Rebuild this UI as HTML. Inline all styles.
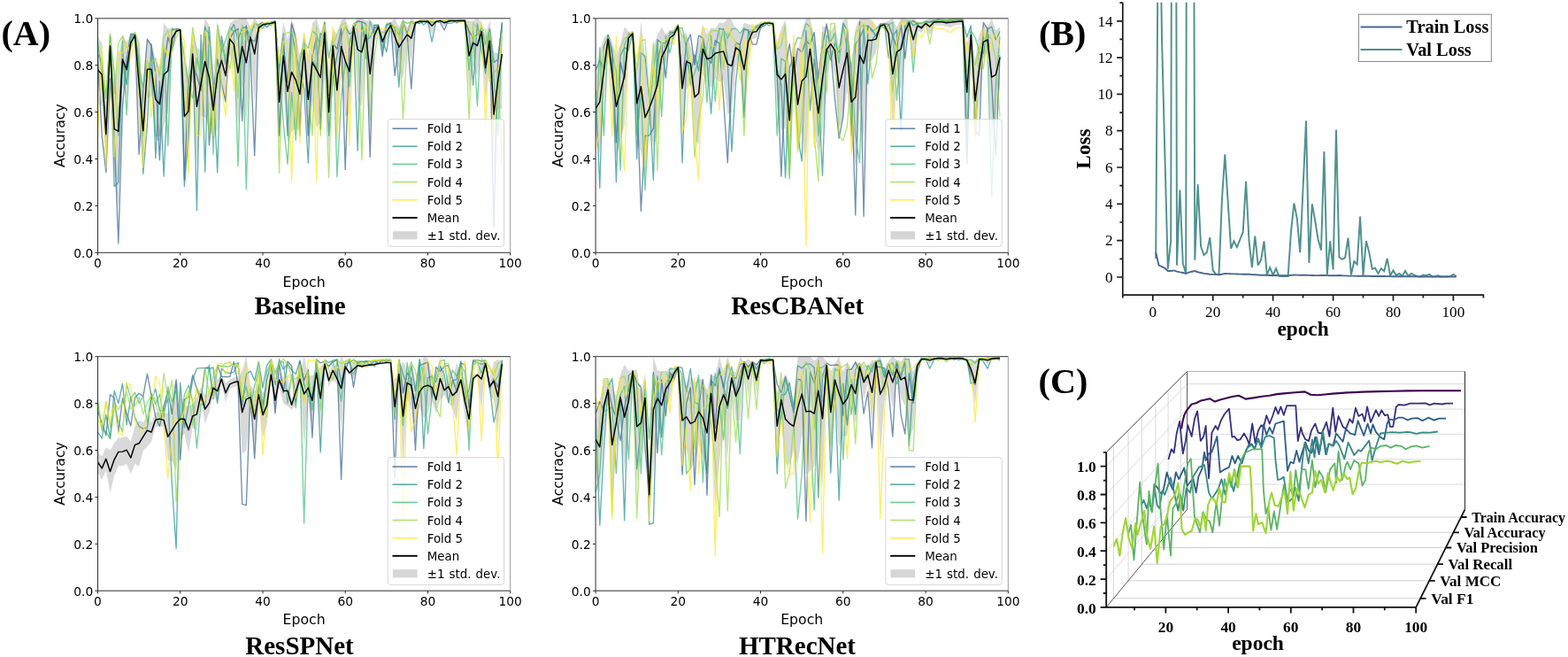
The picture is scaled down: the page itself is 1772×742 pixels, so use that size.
<!DOCTYPE html>
<html lang="en"><head><meta charset="utf-8"><title>Training curves</title>
<style>html,body{margin:0;padding:0;background:#fff}body{width:1772px;height:742px;overflow:hidden}svg{display:block}</style>
</head><body>
<svg width="1772" height="742" viewBox="0 0 1772 742" role="img" aria-label="Training curves">
<rect width="1772" height="742" fill="#fff"/>
<g id="pa1">
<clipPath id="ca1"><rect x="110.5" y="20.8" width="466.2" height="264.5"/></clipPath>
<g clip-path="url(#ca1)" fill="none" stroke-linejoin="round">
<polygon points="110.5,41 115.2,48.5 119.8,114.2 124.5,32.8 129.1,99 133.8,62 138.5,38.8 143.1,48.3 147.8,38.1 152.5,35.9 157.1,51 161.8,106.1 166.4,45.2 171.1,48.2 175.8,67.4 180.4,76.1 185.1,25.8 189.8,32.6 194.4,31.8 199.1,31.8 203.7,32.9 208.4,63.3 213.1,83.4 217.7,32.5 222.4,52.8 227.1,58 231.7,20.8 236.4,28.6 241,91.6 245.7,23.2 250.4,44.3 255,53.1 259.7,26.5 264.3,22.6 269,22 273.7,20.8 278.3,20.8 283,31.1 287.7,20.8 292.3,26.9 297,25.4 301.6,25 306.3,25 311,23.2 315.6,65.1 320.3,24.4 325,45.6 329.6,20.8 334.3,37 338.9,63.9 343.6,34.8 348.3,62.9 352.9,26.6 357.6,20.8 362.2,37.1 366.9,21.4 371.6,80.4 376.2,32.4 380.9,38.9 385.6,22.7 390.2,20.8 394.9,34.2 399.5,26.8 404.2,20.8 408.9,20.8 413.5,23.6 418.2,22.2 422.9,27.8 427.5,27.6 432.2,35.4 436.8,24.9 441.5,25.6 446.2,20.8 450.8,30.2 455.5,20.8 460.1,31.4 464.8,20.8 469.5,24.7 474.1,22.8 478.8,22.3 483.5,22.9 488.1,20.8 492.8,23.5 497.4,22.4 502.1,21.7 506.8,22.6 511.4,22.2 516.1,22.3 520.8,22.2 525.4,22.6 530.1,23.3 534.7,23.6 539.4,20.8 544.1,24.8 548.7,39.7 553.4,23.1 558.1,59.4 562.7,59.5 567.4,20.8 567.4,123 562.7,123.3 558.1,199.1 553.4,69.3 548.7,113.5 544.1,46.4 539.4,86.2 534.7,73 530.1,103 525.4,24.3 520.8,24.7 516.1,24.6 511.4,24.7 506.8,25.3 502.1,30 497.4,24.5 492.8,24.9 488.1,38.3 483.5,25 478.8,26.2 474.1,25.7 469.5,27 464.8,72.4 460.1,46.8 455.5,90.2 450.8,76.5 446.2,63.3 441.5,31.3 436.8,47.9 432.2,58.5 427.5,32.5 422.9,53.5 418.2,144.8 413.5,54.5 408.9,120 404.2,113.3 399.5,33.3 394.9,127.4 390.2,132.1 385.6,82.3 380.9,165.1 376.2,71.1 371.6,172.8 366.9,52.5 362.2,138.3 357.6,143.9 352.9,114 348.3,161.7 343.6,78.8 338.9,148.6 334.3,144.3 329.6,148.8 325,161.1 320.3,101.8 315.6,165.4 311,26.9 306.3,27.7 301.6,28.8 297,30.4 292.3,35.9 287.7,118.9 283,52.8 278.3,142.6 273.7,94.5 269,142.3 264.3,77.2 259.7,61.7 255,118.1 250.4,92 245.7,145.4 241,157.4 236.4,145.8 231.7,132.6 227.1,130.7 222.4,187.7 217.7,89.5 213.1,168.2 208.4,199.4 203.7,34.7 199.1,38.9 194.4,54.7 189.8,127.5 185.1,142.8 180.4,159.2 175.8,157.2 171.1,108.2 166.4,111.2 161.8,189.4 157.1,138.7 152.5,43.8 147.8,58.5 143.1,109.2 138.5,95.4 133.8,234.6 129.1,192.3 124.5,70.7 119.8,188.2 115.2,120 110.5,116.4" fill="#808080" fill-opacity="0.3" stroke="none"/>
<polyline points="110.5,65.7 115.2,153.1 119.8,194.8 124.5,88.9 129.1,153.1 133.8,274.7 138.5,120.4 143.1,66.7 147.8,38.3 152.5,38.7 157.1,174.2 161.8,101.5 166.4,44 171.1,52 175.8,82.9 180.4,180.8 185.1,76.4 189.8,42.1 194.4,55.9 199.1,32.6 203.7,33.4 208.4,203.3 213.1,92.3 217.7,72.3 222.4,85.5 227.1,102.1 231.7,30.2 236.4,163.9 241,105.4 245.7,67 250.4,94.9 255,114.7 259.7,43.8 264.3,35.7 269,32.5 273.7,136.4 278.3,29 283,61.2 287.7,175.8 292.3,27.8 297,25.2 301.6,30.6 306.3,25.7 311,23.8 315.6,153.1 320.3,51.6 325,93 329.6,26.6 334.3,43.2 338.9,153.1 343.6,45.7 348.3,153.1 352.9,63.7 357.6,42.7 362.2,145.6 366.9,25.5 371.6,107.4 376.2,48.8 380.9,55.3 385.6,32.5 390.2,191.4 394.9,49.4 399.5,31.4 404.2,24 408.9,24.6 413.5,27 418.2,177.4 422.9,28.3 427.5,28.3 432.2,63.6 436.8,28.4 441.5,25.9 446.2,85.3 450.8,47.3 455.5,24.8 460.1,39.2 464.8,100.2 469.5,24.6 474.1,26.8 478.8,23.9 483.5,25.9 488.1,24.9 492.8,24.3 497.4,25.4 502.1,34 506.8,22.6 511.4,22.4 516.1,25.8 520.8,23.3 525.4,22.6 530.1,35.7 534.7,42.3 539.4,39.2 544.1,32.5 548.7,75.3 553.4,36.4 558.1,256.2 562.7,69.4 567.4,25.1" stroke="#355f8d" stroke-opacity="0.7" stroke-width="1.35"/>
<polyline points="110.5,61.7 115.2,69.4 119.8,153.1 124.5,41.9 129.1,210.4 133.8,205.9 138.5,67.5 143.1,95.4 147.8,43.3 152.5,38.6 157.1,67.6 161.8,196.4 166.4,141.1 171.1,49.9 175.8,178.7 180.4,91.8 185.1,199.1 189.8,96.1 194.4,33.5 199.1,33.2 203.7,33.6 208.4,210.4 213.1,153.1 217.7,51.5 222.4,237.7 227.1,39.3 231.7,194.3 236.4,30.5 241,93.6 245.7,194.8 250.4,40.7 255,72.5 259.7,35.6 264.3,27.6 269,44.6 273.7,31.5 278.3,30.5 283,44 287.7,46.9 292.3,32.1 297,28.7 301.6,26.4 306.3,25 311,24 315.6,77.5 320.3,38.1 325,153.1 329.6,35.4 334.3,60.1 338.9,82.7 343.6,99.9 348.3,184.3 352.9,66.6 357.6,77.4 362.2,37.8 366.9,40.4 371.6,153.1 376.2,87.7 380.9,63.1 385.6,42.3 390.2,29.7 394.9,38.4 399.5,35.9 404.2,170.2 408.9,27.5 413.5,46.1 418.2,42.1 422.9,31.7 427.5,29.1 432.2,45.3 436.8,58.7 441.5,27.1 446.2,31.7 450.8,98.3 455.5,24.6 460.1,37.9 464.8,24.4 469.5,26.1 474.1,23.2 478.8,28 483.5,24.1 488.1,47.2 492.8,23.9 497.4,23.4 502.1,23.6 506.8,26.4 511.4,25.8 516.1,22.9 520.8,23.4 525.4,22.8 530.1,36.4 534.7,96.3 539.4,26.9 544.1,56.3 548.7,83 553.4,33.4 558.1,70.4 562.7,67.1 567.4,27.6" stroke="#21908d" stroke-opacity="0.7" stroke-width="1.35"/>
<polyline points="110.5,48.1 115.2,81.8 119.8,111.2 124.5,40.5 129.1,81.3 133.8,153.1 138.5,46.5 143.1,130 147.8,40.4 152.5,38 157.1,76.6 161.8,98.5 166.4,68.6 171.1,85.9 175.8,153.1 180.4,153.1 185.1,52.1 189.8,164.7 194.4,32.2 199.1,34.8 203.7,33.7 208.4,64.4 213.1,98.7 217.7,110.8 222.4,65.3 227.1,86.3 231.7,31.6 236.4,38.6 241,174.2 245.7,29.1 250.4,58.8 255,45.2 259.7,31 264.3,35.7 269,188 273.7,30.5 278.3,213.9 283,40.6 287.7,26.3 292.3,29 297,32.2 301.6,26.2 306.3,28.8 311,24.1 315.6,78.2 320.3,139.9 325,185.1 329.6,104.3 334.3,158.3 338.9,71.4 343.6,48.5 348.3,54.4 352.9,34.9 357.6,39.1 362.2,52 366.9,25 371.6,65.6 376.2,40.8 380.9,199.9 385.6,110.3 390.2,69.3 394.9,98.1 399.5,27.1 404.2,23.9 408.9,25.4 413.5,66.2 418.2,24 422.9,38.6 427.5,27.6 432.2,56.3 436.8,27.3 441.5,27.8 446.2,31.1 450.8,39.4 455.5,23.6 460.1,26.3 464.8,25.2 469.5,27.9 474.1,22.9 478.8,22.8 483.5,23.2 488.1,24.5 492.8,25.4 497.4,22.5 502.1,25.1 506.8,24.1 511.4,23 516.1,22.9 520.8,22.2 525.4,25.1 530.1,79.2 534.7,35.2 539.4,119.8 544.1,29.4 548.7,50 553.4,32.1 558.1,84.2 562.7,153.1 567.4,30.5" stroke="#3cbc75" stroke-opacity="0.7" stroke-width="1.35"/>
<polyline points="110.5,65.2 115.2,65.7 119.8,107.6 124.5,38.2 129.1,106.6 133.8,48.4 138.5,40.9 143.1,53.5 147.8,53.7 152.5,36.4 157.1,49.1 161.8,153.1 166.4,71.8 171.1,71 175.8,65.7 180.4,86.6 185.1,42.4 189.8,34.1 194.4,58.5 199.1,42.3 203.7,32.7 208.4,132.5 213.1,88.5 217.7,31.2 222.4,59.7 227.1,90.9 231.7,56.5 236.4,153.1 241,96.1 245.7,99.7 250.4,48.4 255,63.7 259.7,78.1 264.3,47.5 269,110.7 273.7,28 278.3,46.5 283,34 287.7,30.7 292.3,28.1 297,27.8 301.6,25.1 306.3,25.8 311,24.5 315.6,195.6 320.3,39.7 325,36.8 329.6,36.5 334.3,153.1 338.9,62.2 343.6,51.7 348.3,100.9 352.9,153.1 357.6,29.5 362.2,153.1 366.9,65.9 371.6,200.7 376.2,51.1 380.9,38.7 385.6,28.4 390.2,25.7 394.9,53.6 399.5,28.2 404.2,35.7 408.9,180.8 413.5,25.9 418.2,135.5 422.9,64.9 427.5,34.5 432.2,36.6 436.8,35.4 441.5,27.6 446.2,29.7 450.8,33.2 455.5,134.5 460.1,50.3 464.8,41.3 469.5,25.2 474.1,25 478.8,23.6 483.5,23.7 488.1,25.5 492.8,24.4 497.4,23.5 502.1,23.1 506.8,22.9 511.4,22.9 516.1,23 520.8,22.7 525.4,23.6 530.1,134.5 534.7,25.9 539.4,32.1 544.1,34.2 548.7,33.4 553.4,92.2 558.1,82.3 562.7,77 567.4,184.8" stroke="#95d840" stroke-opacity="0.7" stroke-width="1.35"/>
<polyline points="110.5,153.1 115.2,51.4 119.8,189.3 124.5,49.3 129.1,176.9 133.8,59.3 138.5,60.1 143.1,48 147.8,65.8 152.5,47.5 157.1,106.8 161.8,189.3 166.4,65.4 171.1,132.2 175.8,81.2 180.4,75.8 185.1,51.4 189.8,63.2 194.4,36.4 199.1,33.9 203.7,35.5 208.4,46.1 213.1,196.4 217.7,39.1 222.4,153.1 227.1,153.1 231.7,34.7 236.4,49.9 241,153.1 245.7,30.7 250.4,97.9 255,131.9 259.7,31.8 264.3,103 269,35.1 273.7,36.3 278.3,34 283,29.9 287.7,25.3 292.3,39.9 297,25.7 301.6,26.1 306.3,26.5 311,28.7 315.6,71.7 320.3,46.4 325,48.7 329.6,204.1 334.3,38.4 338.9,161.8 343.6,38.1 348.3,68.9 352.9,33 357.6,204.9 362.2,50.1 366.9,27.9 371.6,106.3 376.2,30.4 380.9,153.1 385.6,49.3 390.2,27.2 394.9,164.7 399.5,27.7 404.2,26.1 408.9,36.1 413.5,30.1 418.2,38.5 422.9,39.6 427.5,30.8 432.2,33.1 436.8,32.3 441.5,34 446.2,28.1 450.8,48.4 455.5,24.8 460.1,41.5 464.8,25.4 469.5,25.3 474.1,23.2 478.8,23 483.5,22.9 488.1,24.2 492.8,23.2 497.4,22.4 502.1,23.3 506.8,23.8 511.4,23 516.1,22.7 520.8,25.7 525.4,23.2 530.1,29.8 534.7,41.8 539.4,40.8 544.1,25.6 548.7,141.4 553.4,36.9 558.1,153.1 562.7,90.5 567.4,37" stroke="#fde725" stroke-opacity="0.7" stroke-width="1.35"/>
<polyline points="110.5,78.7 115.2,84.3 119.8,151.2 124.5,51.7 129.1,145.6 133.8,148.3 138.5,67.1 143.1,78.7 147.8,48.3 152.5,39.8 157.1,94.9 161.8,147.8 166.4,78.2 171.1,78.2 175.8,112.3 180.4,117.6 185.1,84.3 189.8,80 194.4,43.3 199.1,35.3 203.7,33.8 208.4,131.4 213.1,125.8 217.7,61 222.4,120.3 227.1,94.3 231.7,69.5 236.4,87.2 241,124.5 245.7,84.3 250.4,68.1 255,85.6 259.7,44.1 264.3,49.9 269,82.2 273.7,52.5 278.3,70.8 283,42 287.7,61 292.3,31.4 297,27.9 301.6,26.9 306.3,26.4 311,25 315.6,115.2 320.3,63.1 325,103.3 329.6,81.4 334.3,90.6 338.9,106.2 343.6,56.8 348.3,112.3 352.9,70.3 357.6,78.7 362.2,87.7 366.9,36.9 371.6,126.6 376.2,51.7 380.9,102 385.6,52.5 390.2,68.7 394.9,80.8 399.5,30.1 404.2,56 408.9,58.9 413.5,39.1 418.2,83.5 422.9,40.6 427.5,30.1 432.2,47 436.8,36.4 441.5,28.5 446.2,41.2 450.8,53.3 455.5,46.2 460.1,39.1 464.8,43.3 469.5,25.8 474.1,24.2 478.8,24.2 483.5,24 488.1,29.3 492.8,24.2 497.4,23.4 502.1,25.8 506.8,24 511.4,23.4 516.1,23.4 520.8,23.4 525.4,23.4 530.1,63.1 534.7,48.3 539.4,51.7 544.1,35.6 548.7,76.6 553.4,46.2 558.1,129.2 562.7,91.4 567.4,61" stroke="#000" stroke-width="1.45"/>
</g>
<rect x="438.3" y="134.7" width="131.3" height="143.7" rx="3" ry="3" fill="#fff" fill-opacity="0.8" stroke="#ccc" stroke-opacity="0.8" stroke-width="1"/>
<g font-family='"DejaVu Sans","Liberation Sans",sans-serif' font-size="13.4" fill="#000">
<line x1="443.5" y1="145.2" x2="471.7" y2="145.2" stroke="#355f8d" stroke-opacity="0.75" stroke-width="1.6"/>
<text x="482.7" y="150.2">Fold 1</text>
<line x1="443.5" y1="165.3" x2="471.7" y2="165.3" stroke="#21908d" stroke-opacity="0.75" stroke-width="1.6"/>
<text x="482.7" y="170.3">Fold 2</text>
<line x1="443.5" y1="185.4" x2="471.7" y2="185.4" stroke="#3cbc75" stroke-opacity="0.75" stroke-width="1.6"/>
<text x="482.7" y="190.4">Fold 3</text>
<line x1="443.5" y1="205.6" x2="471.7" y2="205.6" stroke="#95d840" stroke-opacity="0.75" stroke-width="1.6"/>
<text x="482.7" y="210.6">Fold 4</text>
<line x1="443.5" y1="225.8" x2="471.7" y2="225.8" stroke="#fde725" stroke-opacity="0.75" stroke-width="1.6"/>
<text x="482.7" y="230.8">Fold 5</text>
<line x1="443.5" y1="245.9" x2="471.7" y2="245.9" stroke="#000" stroke-width="1.9"/>
<text x="482.7" y="250.9">Mean</text>
<rect x="443.9" y="261.2" width="27.6" height="9.2" fill="#808080" fill-opacity="0.32"/>
<text x="482.7" y="271.1" word-spacing="0.8">±1 std. dev.</text>
</g>
<g fill="none" stroke-width="1">
<path d="M110.5 20.8V285.3H576.7" stroke="#2e2e2e"/>
<path d="M110.5 20.8H576.7" stroke="#333"/>
<path d="M576.7 20.8V285.3" stroke="#999"/>
<path d="M110.5 285.3h-3.1M110.5 285.3v3.1M110.5 232.4h-3.1M203.7 285.3v3.1M110.5 179.5h-3.1M297 285.3v3.1M110.5 126.6h-3.1M390.2 285.3v3.1M110.5 73.7h-3.1M483.5 285.3v3.1M110.5 20.8h-3.1M576.7 285.3v3.1" stroke="#222"/>
</g>
<g font-family='"DejaVu Sans","Liberation Sans",sans-serif' font-size="13.8" fill="#000">
<text x="105.2" y="290.9" text-anchor="end">0.0</text>
<text x="105.2" y="238" text-anchor="end">0.2</text>
<text x="105.2" y="185.1" text-anchor="end">0.4</text>
<text x="105.2" y="132.2" text-anchor="end">0.6</text>
<text x="105.2" y="79.3" text-anchor="end">0.8</text>
<text x="105.2" y="26.4" text-anchor="end">1.0</text>
<text x="110.5" y="301.9" text-anchor="middle">0</text>
<text x="203.7" y="301.9" text-anchor="middle">20</text>
<text x="297" y="301.9" text-anchor="middle">40</text>
<text x="390.2" y="301.9" text-anchor="middle">60</text>
<text x="483.5" y="301.9" text-anchor="middle">80</text>
<text x="576.7" y="301.9" text-anchor="middle">100</text>
</g>
<g font-family='"DejaVu Sans","Liberation Sans",sans-serif' font-size="15.7" fill="#000">
<text x="343.6" y="323.5" text-anchor="middle">Epoch</text>
<text transform="translate(73 153.1) rotate(-90)" text-anchor="middle">Accuracy</text>
</g>
<text x="339" y="355.1" text-anchor="middle" font-family='"Liberation Serif","DejaVu Serif",serif' font-weight="bold" font-size="29" fill="#000">Baseline</text>
</g>
<g id="pa2">
<clipPath id="ca2"><rect x="673.1" y="20.8" width="466.2" height="264.5"/></clipPath>
<g clip-path="url(#ca2)" fill="none" stroke-linejoin="round">
<polygon points="673.1,89.4 677.8,56.9 682.4,42.4 687.1,38.3 691.7,46.9 696.4,62 701.1,50.2 705.7,30.1 710.4,35.7 715.1,35.6 719.7,73.5 724.4,24 729,65.3 733.7,106.3 738.4,52.9 743,39.4 747.7,30.8 752.4,38.5 757,34 761.7,33.5 766.3,27.1 771,40.4 775.7,36.6 780.3,52.2 785,63 789.6,47.8 794.3,27.8 799,38.9 803.6,31.3 808.3,32.2 813,25.2 817.6,26.3 822.3,20.8 826.9,22.6 831.6,33.8 836.3,39.5 840.9,25.8 845.6,27.3 850.3,28.9 854.9,28 859.6,26.1 864.2,24.7 868.9,24.5 873.6,25 878.2,47.9 882.9,31.9 887.6,22.4 892.2,73.4 896.9,48 901.5,60.9 906.2,35.2 910.9,20.8 915.5,20.8 920.2,40.9 924.8,83 929.5,29.7 934.2,29.4 938.8,36 943.5,27.1 948.2,53.4 952.8,23.1 957.5,20.8 962.1,74.2 966.8,31.7 971.5,20.8 976.1,20.8 980.8,20.8 985.5,22.9 990.1,29.7 994.8,27.6 999.4,25.8 1004.1,23.6 1008.8,20.8 1013.4,30.9 1018.1,20.8 1022.8,20.8 1027.4,22.3 1032.1,20.9 1036.7,24.2 1041.4,25.6 1046.1,23.1 1050.7,20.8 1055.4,21.8 1060,20.8 1064.7,20.8 1069.4,21.7 1074,20.8 1078.7,20.8 1083.4,20.8 1088,20.8 1092.7,48.8 1097.3,29.4 1102,67 1106.7,39.1 1111.3,28.2 1116,30.5 1120.7,20.8 1125.3,34.4 1130,30.8 1130,99.7 1125.3,134.2 1120.7,157.8 1116,59.3 1111.3,66.8 1106.7,115.2 1102,160.8 1097.3,50.3 1092.7,159.4 1088,27.6 1083.4,27.9 1078.7,28.8 1074,30.9 1069.4,30 1064.7,28.8 1060,28.8 1055.4,28.3 1050.7,40 1046.1,29.6 1041.4,37.2 1036.7,34.4 1032.1,68.8 1027.4,29.3 1022.8,51.2 1018.1,102.7 1013.4,86.8 1008.8,150.5 1004.1,51.8 999.4,30.1 994.8,30.9 990.1,58.4 985.5,67.9 980.8,70.2 976.1,158 971.5,123.3 966.8,187.7 962.1,156.3 957.5,102 952.8,134.3 948.2,144.7 943.5,86.4 938.8,63.3 934.2,82.5 929.5,147.3 924.8,172.8 920.2,148.8 915.5,91.2 910.9,182.2 906.2,147.6 901.5,175.4 896.9,80.9 892.2,198.3 887.6,144.6 882.9,147.8 878.2,120.7 873.6,28.8 868.9,27.6 864.2,27.5 859.6,30.8 854.9,43.3 850.3,43.9 845.6,67.7 840.9,131.6 836.3,75.6 831.6,73.9 826.9,126.4 822.3,129.6 817.6,89.9 813,92.6 808.3,88.3 803.6,99.2 799,94.2 794.3,83.1 789.6,163.1 785,156.4 780.3,91 775.7,102.4 771,159.4 766.3,31.4 761.7,44.6 757,51.5 752.4,72.4 747.7,98.1 743,151.9 738.4,166.4 733.7,138.9 729,200 724.4,171.5 719.7,160.1 715.1,39.9 710.4,49.8 705.7,141.6 701.1,158.1 696.4,178.5 691.7,119 687.1,49.9 682.4,117.7 677.8,173.6 673.1,155.8" fill="#808080" fill-opacity="0.3" stroke="none"/>
<polyline points="673.1,79.8 677.8,67.9 682.4,79.5 687.1,39.4 691.7,56.7 696.4,161 701.1,70.1 705.7,89.1 710.4,37.5 715.1,41.9 719.7,106.5 724.4,238.5 729,153.1 733.7,153.1 738.4,145.2 743,69.3 747.7,49.6 752.4,87.9 757,36.1 761.7,36.9 766.3,29.1 771,94.7 775.7,49 780.3,38.8 785,73.3 789.6,40.2 794.3,43 799,64.8 803.6,71.3 808.3,45.7 813,49 817.6,111.6 822.3,183.7 826.9,86.7 831.6,48.1 836.3,50.4 840.9,33.4 845.6,33.6 850.3,50 854.9,50.2 859.6,30.5 864.2,28.9 868.9,24.9 873.6,26.6 878.2,82.4 882.9,199.1 887.6,75.6 892.2,49.6 896.9,85.7 901.5,54.6 906.2,58.9 910.9,46.3 915.5,50.2 920.2,36.5 924.8,89.1 929.5,52.3 934.2,26.9 938.8,58.3 943.5,111.5 948.2,156.2 952.8,131.6 957.5,34.8 962.1,93 966.8,243 971.5,24.4 976.1,244.3 980.8,28.9 985.5,33.8 990.1,41 994.8,27 999.4,26.9 1004.1,27.3 1008.8,40.4 1013.4,53.4 1018.1,27.8 1022.8,65.9 1027.4,25.2 1032.1,23.6 1036.7,27 1041.4,32.4 1046.1,25.3 1050.7,24.6 1055.4,25 1060,22.2 1064.7,22.6 1069.4,25.1 1074,23.1 1078.7,24.1 1083.4,23.6 1088,22.5 1092.7,184.8 1097.3,36.6 1102,147.8 1106.7,153.1 1111.3,25.4 1116,32.4 1120.7,93.7 1125.3,175.3 1130,62.6" stroke="#355f8d" stroke-opacity="0.7" stroke-width="1.35"/>
<polyline points="673.1,101.1 677.8,212.6 682.4,52.3 687.1,42.2 691.7,63.1 696.4,205.9 701.1,62.8 705.7,53.6 710.4,56.6 715.1,36.6 719.7,179.5 724.4,59.1 729,64 733.7,109.9 738.4,203.3 743,44.7 747.7,48.7 752.4,48.3 757,38.8 761.7,36.4 766.3,27.9 771,183.7 775.7,67.6 780.3,83.5 785,61.6 789.6,80 794.3,49 799,68.8 803.6,128.3 808.3,54 813,32.1 817.6,33.3 822.3,68.8 826.9,171 831.6,91.8 836.3,49.7 840.9,132.7 845.6,36 850.3,34.8 854.9,30.7 859.6,31.9 864.2,25.9 868.9,25.1 873.6,26.1 878.2,78 882.9,95.7 887.6,200.7 892.2,76.6 896.9,65.2 901.5,153.1 906.2,182.1 910.9,34.5 915.5,124.7 920.2,66.5 924.8,99 929.5,198.5 934.2,54.3 938.8,68 943.5,48.3 948.2,59.2 952.8,26.2 957.5,33.8 962.1,153.1 966.8,50 971.5,42.8 976.1,32.9 980.8,94.6 985.5,45.2 990.1,38.8 994.8,31.5 999.4,26.2 1004.1,65.4 1008.8,41.6 1013.4,33.9 1018.1,147.8 1022.8,29.1 1027.4,23.5 1032.1,28.8 1036.7,26.2 1041.4,26.3 1046.1,23.9 1050.7,24.9 1055.4,22.7 1060,23.4 1064.7,22.4 1069.4,23.3 1074,22.4 1078.7,22.4 1083.4,22.1 1088,23.1 1092.7,41.8 1097.3,29 1102,153.1 1106.7,57.9 1111.3,60.8 1116,32.7 1120.7,30.4 1125.3,44.7 1130,35.5" stroke="#21908d" stroke-opacity="0.7" stroke-width="1.35"/>
<polyline points="673.1,153.1 677.8,53.9 682.4,153.1 687.1,40.5 691.7,60.5 696.4,81.1 701.1,192.2 705.7,50.6 710.4,40.4 715.1,35.9 719.7,153.1 724.4,103.9 729,214.7 733.7,126.3 738.4,79.5 743,47.2 747.7,131.7 752.4,40.3 757,59.9 761.7,37.6 766.3,33.4 771,31.1 775.7,54.9 780.3,95.9 785,82.4 789.6,68.7 794.3,43.5 799,115.8 803.6,40.5 808.3,114.6 813,54 817.6,32.2 822.3,43.3 826.9,32.9 831.6,32 836.3,37.9 840.9,31.5 845.6,35.3 850.3,36.7 854.9,29 859.6,27.5 864.2,25.2 868.9,29.1 873.6,26.1 878.2,153.1 882.9,66.1 887.6,69.4 892.2,202 896.9,54 901.5,42.5 906.2,43.7 910.9,26.6 915.5,30.3 920.2,52 924.8,153.1 929.5,99.2 934.2,40.2 938.8,46.7 943.5,37.4 948.2,71.1 952.8,27.8 957.5,57.2 962.1,73 966.8,153.1 971.5,183.7 976.1,28.2 980.8,30.1 985.5,35.8 990.1,32.4 994.8,28.2 999.4,32.2 1004.1,28.3 1008.8,25.3 1013.4,113.3 1018.1,52.2 1022.8,34.1 1027.4,23.8 1032.1,81.6 1036.7,28.2 1041.4,30.1 1046.1,25.7 1050.7,24.5 1055.4,23.3 1060,22.1 1064.7,23.6 1069.4,23.5 1074,22.3 1078.7,22.5 1083.4,22 1088,21.3 1092.7,153.1 1097.3,34.9 1102,41.9 1106.7,58.3 1111.3,41.8 1116,53.7 1120.7,221.8 1125.3,96.9 1130,41.4" stroke="#3cbc75" stroke-opacity="0.7" stroke-width="1.35"/>
<polyline points="673.1,110.2 677.8,93.6 682.4,57 687.1,55.4 691.7,81.4 696.4,112.8 701.1,54 705.7,43.2 710.4,41.5 715.1,37.3 719.7,79.1 724.4,46.9 729,44.3 733.7,112.9 738.4,48.5 743,192.2 747.7,47.1 752.4,55.7 757,37.4 761.7,34.5 766.3,27.7 771,40.8 775.7,42.6 780.3,76 785,177.9 789.6,135.5 794.3,109.7 799,50.5 803.6,34.8 808.3,34.5 813,35.1 817.6,78.1 822.3,37.3 826.9,41.2 831.6,48.1 836.3,58.7 840.9,153.1 845.6,45.6 850.3,33.1 854.9,32.3 859.6,25.6 864.2,25.5 868.9,26.3 873.6,25.1 878.2,56.1 882.9,51.3 887.6,27.8 892.2,198 896.9,77.8 901.5,168.9 906.2,131.8 910.9,47.2 915.5,45.2 920.2,153.1 924.8,204.9 929.5,36.8 934.2,105.1 938.8,27 943.5,26.1 948.2,153.1 952.8,158.9 957.5,142.2 962.1,81.8 966.8,37.5 971.5,31.1 976.1,27.2 980.8,35.5 985.5,88.3 990.1,72.2 994.8,28.8 999.4,27.5 1004.1,33.1 1008.8,104.2 1013.4,44.9 1018.1,24.5 1022.8,23.9 1027.4,23.9 1032.1,25.1 1036.7,25.6 1041.4,26.1 1046.1,24.1 1050.7,49.9 1055.4,22.9 1060,23.4 1064.7,22.5 1069.4,23.2 1074,23 1078.7,22.2 1083.4,22.1 1088,23.3 1092.7,81 1097.3,59.6 1102,73.8 1106.7,54 1111.3,77.8 1116,36.5 1120.7,45.2 1125.3,66.6 1130,131.5" stroke="#95d840" stroke-opacity="0.7" stroke-width="1.35"/>
<polyline points="673.1,168.9 677.8,148.1 682.4,58.4 687.1,42.9 691.7,153.1 696.4,40.5 701.1,141.6 705.7,192.7 710.4,37.8 715.1,36.9 719.7,65.9 724.4,40.4 729,187.4 733.7,111 738.4,71.8 743,124.9 747.7,45.1 752.4,45.1 757,41.6 761.7,49.9 766.3,28.2 771,149.1 775.7,133.2 780.3,63.7 785,153.1 789.6,202.8 794.3,32.1 799,32.9 803.6,51.3 808.3,52.3 813,124.2 817.6,35.4 822.3,28.8 826.9,40.7 831.6,49.3 836.3,91.2 840.9,43.1 845.6,87 850.3,27.4 854.9,35.8 859.6,27 864.2,25 868.9,25.1 873.6,30.6 878.2,51.8 882.9,37 887.6,44 892.2,153.1 896.9,39.6 901.5,171.6 906.2,40.5 910.9,277.4 915.5,26.9 920.2,166.3 924.8,93.7 929.5,55.8 934.2,53.4 938.8,48 943.5,60.5 948.2,55.9 952.8,49.1 957.5,30.4 962.1,175.3 966.8,64.8 971.5,29.6 976.1,25.3 980.8,37.9 985.5,23.8 990.1,36 994.8,30.9 999.4,27 1004.1,34.4 1008.8,205.9 1013.4,48.9 1018.1,25.1 1022.8,25.1 1027.4,32.7 1032.1,65.2 1036.7,39.3 1041.4,42 1046.1,32.7 1050.7,26.4 1055.4,31.4 1060,32.7 1064.7,32.7 1069.4,34 1074,36.7 1078.7,32.7 1083.4,31.4 1088,31.4 1092.7,60 1097.3,39.1 1102,153.1 1106.7,62.5 1111.3,31.7 1116,69 1120.7,44.7 1125.3,38 1130,55.2" stroke="#fde725" stroke-opacity="0.7" stroke-width="1.35"/>
<polyline points="673.1,122.6 677.8,115.2 682.4,80 687.1,44.1 691.7,83 696.4,120.3 701.1,104.1 705.7,85.9 710.4,42.8 715.1,37.7 719.7,116.8 724.4,97.8 729,132.7 733.7,122.6 738.4,109.7 743,95.7 747.7,64.4 752.4,55.4 757,42.8 761.7,39.1 766.3,29.3 771,99.9 775.7,69.5 780.3,71.6 785,109.7 789.6,105.4 794.3,55.4 799,66.6 803.6,65.2 808.3,60.2 813,58.9 817.6,58.1 822.3,72.4 826.9,74.5 831.6,53.9 836.3,57.6 840.9,78.7 845.6,47.5 850.3,36.4 854.9,35.6 859.6,28.5 864.2,26.1 868.9,26.1 873.6,26.9 878.2,84.3 882.9,89.8 887.6,83.5 892.2,135.9 896.9,64.4 901.5,118.1 906.2,91.4 910.9,86.4 915.5,55.4 920.2,94.9 924.8,127.9 929.5,88.5 934.2,56 938.8,49.6 943.5,56.8 948.2,99.1 952.8,78.7 957.5,59.7 962.1,115.2 966.8,109.7 971.5,62.3 976.1,71.6 980.8,45.4 985.5,45.4 990.1,44.1 994.8,29.3 999.4,27.9 1004.1,37.7 1008.8,83.5 1013.4,58.9 1018.1,55.4 1022.8,35.6 1027.4,25.8 1032.1,44.9 1036.7,29.3 1041.4,31.4 1046.1,26.4 1050.7,30.1 1055.4,25 1060,24.8 1064.7,24.8 1069.4,25.8 1074,25.3 1078.7,24.8 1083.4,24.2 1088,24 1092.7,104.1 1097.3,39.8 1102,113.9 1106.7,77.1 1111.3,47.5 1116,44.9 1120.7,87.2 1125.3,84.3 1130,65.2" stroke="#000" stroke-width="1.45"/>
</g>
<rect x="1000.9" y="134.7" width="131.3" height="143.7" rx="3" ry="3" fill="#fff" fill-opacity="0.8" stroke="#ccc" stroke-opacity="0.8" stroke-width="1"/>
<g font-family='"DejaVu Sans","Liberation Sans",sans-serif' font-size="13.4" fill="#000">
<line x1="1006.1" y1="145.2" x2="1034.3" y2="145.2" stroke="#355f8d" stroke-opacity="0.75" stroke-width="1.6"/>
<text x="1045.3" y="150.2">Fold 1</text>
<line x1="1006.1" y1="165.3" x2="1034.3" y2="165.3" stroke="#21908d" stroke-opacity="0.75" stroke-width="1.6"/>
<text x="1045.3" y="170.3">Fold 2</text>
<line x1="1006.1" y1="185.4" x2="1034.3" y2="185.4" stroke="#3cbc75" stroke-opacity="0.75" stroke-width="1.6"/>
<text x="1045.3" y="190.4">Fold 3</text>
<line x1="1006.1" y1="205.6" x2="1034.3" y2="205.6" stroke="#95d840" stroke-opacity="0.75" stroke-width="1.6"/>
<text x="1045.3" y="210.6">Fold 4</text>
<line x1="1006.1" y1="225.8" x2="1034.3" y2="225.8" stroke="#fde725" stroke-opacity="0.75" stroke-width="1.6"/>
<text x="1045.3" y="230.8">Fold 5</text>
<line x1="1006.1" y1="245.9" x2="1034.3" y2="245.9" stroke="#000" stroke-width="1.9"/>
<text x="1045.3" y="250.9">Mean</text>
<rect x="1006.5" y="261.2" width="27.6" height="9.2" fill="#808080" fill-opacity="0.32"/>
<text x="1045.3" y="271.1" word-spacing="0.8">±1 std. dev.</text>
</g>
<g fill="none" stroke-width="1">
<path d="M673.1 20.8V285.3H1139.3" stroke="#2e2e2e"/>
<path d="M673.1 20.8H1139.3" stroke="#333"/>
<path d="M1139.3 20.8V285.3" stroke="#999"/>
<path d="M673.1 285.3h-3.1M673.1 285.3v3.1M673.1 232.4h-3.1M766.3 285.3v3.1M673.1 179.5h-3.1M859.6 285.3v3.1M673.1 126.6h-3.1M952.8 285.3v3.1M673.1 73.7h-3.1M1046.1 285.3v3.1M673.1 20.8h-3.1M1139.3 285.3v3.1" stroke="#222"/>
</g>
<g font-family='"DejaVu Sans","Liberation Sans",sans-serif' font-size="13.8" fill="#000">
<text x="667.8" y="290.9" text-anchor="end">0.0</text>
<text x="667.8" y="238" text-anchor="end">0.2</text>
<text x="667.8" y="185.1" text-anchor="end">0.4</text>
<text x="667.8" y="132.2" text-anchor="end">0.6</text>
<text x="667.8" y="79.3" text-anchor="end">0.8</text>
<text x="667.8" y="26.4" text-anchor="end">1.0</text>
<text x="673.1" y="301.9" text-anchor="middle">0</text>
<text x="766.3" y="301.9" text-anchor="middle">20</text>
<text x="859.6" y="301.9" text-anchor="middle">40</text>
<text x="952.8" y="301.9" text-anchor="middle">60</text>
<text x="1046.1" y="301.9" text-anchor="middle">80</text>
<text x="1139.3" y="301.9" text-anchor="middle">100</text>
</g>
<g font-family='"DejaVu Sans","Liberation Sans",sans-serif' font-size="15.7" fill="#000">
<text x="906.2" y="323.5" text-anchor="middle">Epoch</text>
<text transform="translate(635.6 153.1) rotate(-90)" text-anchor="middle">Accuracy</text>
</g>
<text x="901.2" y="355.1" text-anchor="middle" font-family='"Liberation Serif","DejaVu Serif",serif' font-weight="bold" font-size="29" fill="#000">ResCBANet</text>
</g>
<g id="pa3">
<clipPath id="ca3"><rect x="110.5" y="402.7" width="466.2" height="264.5"/></clipPath>
<g clip-path="url(#ca3)" fill="none" stroke-linejoin="round">
<polygon points="110.5,510.1 115.2,515.6 119.8,505.1 124.5,508.8 129.1,500.6 133.8,494.5 138.5,494.2 143.1,492.4 147.8,498.4 152.5,481.3 157.1,474.4 161.8,477.3 166.4,467.5 171.1,477.6 175.8,466.2 180.4,465.1 185.1,466.4 189.8,466.7 194.4,451.6 199.1,425.4 203.7,449.5 208.4,457.5 213.1,459 217.7,456.7 222.4,449.3 227.1,437.1 231.7,446.3 236.4,444.5 241,430.2 245.7,428.4 250.4,422.8 255,433.1 259.7,428.6 264.3,426.5 269,425.4 273.7,418.5 278.3,402.7 283,434.4 287.7,441.8 292.3,436.3 297,443.6 301.6,435.8 306.3,421.7 311,435.6 315.6,420.5 320.3,427 325,423.5 329.6,451.6 334.3,427.5 338.9,423.2 343.6,402.7 348.3,424 352.9,424.2 357.6,420.4 362.2,414.3 366.9,409.7 371.6,422.3 376.2,409.5 380.9,420.4 385.6,402.7 390.2,410.1 394.9,419.7 399.5,405.1 404.2,410.6 408.9,411.6 413.5,410.3 418.2,409.9 422.9,409 427.5,409 432.2,409.4 436.8,408.6 441.5,408.9 446.2,428.6 450.8,421.8 455.5,408.1 460.1,418.6 464.8,406.9 469.5,430.9 474.1,425.1 478.8,402.7 483.5,405 488.1,422.8 492.8,435.5 497.4,403.5 502.1,435.3 506.8,419.2 511.4,431.4 516.1,409.3 520.8,424.7 525.4,434.5 530.1,448.1 534.7,423.6 539.4,422.1 544.1,402.7 548.7,409.7 553.4,427.2 558.1,408.7 562.7,405.9 567.4,409.5 567.4,412.8 562.7,489.9 558.1,451.7 553.4,445.9 548.7,411.5 544.1,462.7 539.4,424.6 534.7,431.6 530.1,498.5 525.4,472.5 520.8,433 516.1,475.5 511.4,461.8 506.8,453.9 502.1,446.2 497.4,451.6 492.8,467.3 488.1,451.9 483.5,465.5 478.8,472.6 474.1,459.7 469.5,491.9 464.8,463.6 460.1,446.1 455.5,531.7 450.8,423.3 446.2,490 441.5,410.2 436.8,410.6 432.2,410.8 427.5,412.2 422.9,414.4 418.2,414.1 413.5,415.2 408.9,416 404.2,414.9 399.5,428.9 394.9,422.7 390.2,418.1 385.6,486.3 380.9,434.7 376.2,427.2 371.6,437 366.9,412.7 362.2,485.8 357.6,422 352.9,480.1 348.3,452.3 343.6,505 338.9,433 334.3,457.2 329.6,462.8 325,458.6 320.3,456.1 315.6,437.3 311,468.7 306.3,424.9 301.6,479.6 297,493.5 292.3,455.3 287.7,504.9 283,463.1 278.3,508.4 273.7,512.8 269,436 264.3,437.1 259.7,439.2 255,454.3 250.4,433.4 245.7,454.8 241,446.1 236.4,465.7 231.7,478.1 227.1,453 222.4,486.3 217.7,483.1 213.1,511.9 208.4,489.2 203.7,497.1 199.1,531.2 194.4,520.4 189.8,519.6 185.1,482.3 180.4,481 175.8,482.1 171.1,498.7 166.4,504.5 161.8,509 157.1,527.3 152.5,523.6 147.8,535.5 143.1,524.1 138.5,526 133.8,526.2 129.1,537.6 124.5,556.4 119.8,531.5 115.2,542.1 110.5,533.9" fill="#808080" fill-opacity="0.3" stroke="none"/>
<polyline points="110.5,463.9 115.2,477.9 119.8,491.9 124.5,445.8 129.1,449.2 133.8,487.8 138.5,449.8 143.1,467 147.8,481 152.5,449.2 157.1,444.3 161.8,447.6 166.4,422.1 171.1,447.4 175.8,470.9 180.4,481.5 185.1,458.5 189.8,441.6 194.4,467.3 199.1,429.2 203.7,519.1 208.4,451 213.1,448.6 217.7,423.7 222.4,438.9 227.1,452.6 231.7,415.7 236.4,414.5 241,450.6 245.7,412.6 250.4,425.4 255,425.5 259.7,425.6 264.3,408.8 269,433.8 273.7,569.3 278.3,570.7 283,443.8 287.7,517.8 292.3,434.3 297,458 301.6,429.1 306.3,410.5 311,466.7 315.6,409.9 320.3,443.6 325,408.2 329.6,413.1 334.3,453.3 338.9,408.6 343.6,429.7 348.3,417.4 352.9,494 357.6,406.1 362.2,409.9 366.9,408.1 371.6,413.7 376.2,408.9 380.9,406.7 385.6,541.6 390.2,418.6 394.9,405.4 399.5,437.3 404.2,408.5 408.9,408.2 413.5,408.6 418.2,408.1 422.9,407.4 427.5,410.6 432.2,406.6 436.8,408.6 441.5,406.2 446.2,538.9 450.8,406.6 455.5,444 460.1,421.3 464.8,426.9 469.5,508.5 474.1,412.6 478.8,410.8 483.5,409.1 488.1,448.9 492.8,414.6 497.4,419.3 502.1,413.6 506.8,412.9 511.4,427.9 516.1,442.8 520.8,410 525.4,411.8 530.1,461.1 534.7,407 539.4,406.9 544.1,407.8 548.7,407.1 553.4,438.9 558.1,427.5 562.7,437.6 567.4,407.4" stroke="#355f8d" stroke-opacity="0.7" stroke-width="1.35"/>
<polyline points="110.5,488.1 115.2,495 119.8,468.3 124.5,494.6 129.1,441.3 133.8,455.6 138.5,433.2 143.1,479.6 147.8,448.3 152.5,471.5 157.1,481.5 161.8,484.2 166.4,483.1 171.1,451.1 175.8,439.3 180.4,463.9 185.1,464 189.8,449.2 194.4,548.2 199.1,619.6 203.7,432.1 208.4,482.9 213.1,457.5 217.7,429.2 222.4,416.1 227.1,415.7 231.7,415.6 236.4,416.7 241,415 245.7,455.4 250.4,416.2 255,420.6 259.7,421.4 264.3,420.1 269,409.5 273.7,458.1 278.3,422.4 283,419.1 287.7,429.6 292.3,408.7 297,438.2 301.6,412.6 306.3,405.9 311,434.6 315.6,405.8 320.3,417.2 325,410.7 329.6,417.8 334.3,422.6 338.9,407 343.6,434.2 348.3,448.2 352.9,445.9 357.6,407.9 362.2,510.6 366.9,406.9 371.6,409.5 376.2,407.2 380.9,405.8 385.6,432.6 390.2,411 394.9,409.5 399.5,406.4 404.2,409.2 408.9,410 413.5,407.6 418.2,412.9 422.9,407.5 427.5,406.8 432.2,408.1 436.8,406.1 441.5,406.8 446.2,473.5 450.8,406.3 455.5,423.2 460.1,435 464.8,412.9 469.5,441.5 474.1,406.4 478.8,506.4 483.5,426.7 488.1,425.2 492.8,431.4 497.4,413.4 502.1,423.1 506.8,454.8 511.4,429.9 516.1,428.7 520.8,407.8 525.4,451.8 530.1,440 534.7,408.3 539.4,409.1 544.1,411.5 548.7,409.2 553.4,435.8 558.1,476.8 562.7,456.7 567.4,406.5" stroke="#21908d" stroke-opacity="0.7" stroke-width="1.35"/>
<polyline points="110.5,453.5 115.2,484.6 119.8,487.4 124.5,495.7 129.1,458.5 133.8,476.1 138.5,488.1 143.1,433.8 147.8,449.6 152.5,443.1 157.1,455.4 161.8,447.5 166.4,477.1 171.1,444.4 175.8,456.7 180.4,445.2 185.1,472 189.8,436.6 194.4,454.1 199.1,440.7 203.7,475.7 208.4,446 213.1,434.9 217.7,452.9 222.4,505.9 227.1,455.8 231.7,457.8 236.4,411.8 241,448.7 245.7,412.3 250.4,413.8 255,414 259.7,413.5 264.3,411 269,410.6 273.7,450.8 278.3,436.5 283,459.6 287.7,435.4 292.3,419.4 297,468 301.6,420.5 306.3,407.4 311,420.9 315.6,409.3 320.3,408.6 325,455.4 329.6,423.3 334.3,460.5 338.9,412.5 343.6,591 348.3,431.3 352.9,463.3 357.6,405.8 362.2,437.9 366.9,410.9 371.6,413 376.2,407.9 380.9,424.6 385.6,453.2 390.2,407.9 394.9,405.8 399.5,422.9 404.2,408.8 408.9,414.3 413.5,407.3 418.2,407.8 422.9,413.8 427.5,406.3 432.2,406.5 436.8,406.6 441.5,407.9 446.2,463.8 450.8,408 455.5,480.7 460.1,409.5 464.8,440.2 469.5,451 474.1,405.6 478.8,423.8 483.5,490 488.1,449.3 492.8,423.9 497.4,407.6 502.1,406.3 506.8,439.1 511.4,417.9 516.1,425 520.8,411.8 525.4,420.7 530.1,508.5 534.7,412.2 539.4,408.7 544.1,421.4 548.7,407.2 553.4,434.9 558.1,432 562.7,425.2 567.4,408.2" stroke="#3cbc75" stroke-opacity="0.7" stroke-width="1.35"/>
<polyline points="110.5,454 115.2,487.1 119.8,453.7 124.5,481.7 129.1,453.5 133.8,462.7 138.5,454.7 143.1,442.4 147.8,461.9 152.5,458.5 157.1,448.3 161.8,467.7 166.4,454.3 171.1,446.5 175.8,450.7 180.4,478.5 185.1,421.5 189.8,449.5 194.4,429.8 199.1,566.7 203.7,495 208.4,455.7 213.1,441.1 217.7,480.2 222.4,436.7 227.1,448.9 231.7,415.3 236.4,445.7 241,424.4 245.7,413.2 250.4,413.6 255,410.1 259.7,408.8 264.3,413.2 269,411.6 273.7,450.8 278.3,448.1 283,439.5 287.7,465.4 292.3,408.9 297,462.5 301.6,470.4 306.3,406.4 311,423.5 315.6,410.5 320.3,405.4 325,411.5 329.6,425.8 334.3,427.8 338.9,421.1 343.6,453.3 348.3,419.8 352.9,455.1 357.6,407.4 362.2,463.8 366.9,407 371.6,417.3 376.2,430.2 380.9,407.1 385.6,410.4 390.2,408.6 394.9,407.1 399.5,410.4 404.2,407.8 408.9,411.7 413.5,410.2 418.2,407.8 422.9,406.9 427.5,407 432.2,406.2 436.8,406 441.5,406.2 446.2,469.7 450.8,406.4 455.5,474.1 460.1,450.6 464.8,408.7 469.5,419.3 474.1,447.4 478.8,412.8 483.5,442.3 488.1,423.3 492.8,459.9 497.4,470.7 502.1,411.3 506.8,410.1 511.4,457.8 516.1,432.9 520.8,416.1 525.4,451.5 530.1,448.8 534.7,412.5 539.4,405.8 544.1,408.1 548.7,406.7 553.4,415.1 558.1,424.3 562.7,410.4 567.4,406.7" stroke="#95d840" stroke-opacity="0.7" stroke-width="1.35"/>
<polyline points="110.5,474.9 115.2,479.8 119.8,453 124.5,477 129.1,457.8 133.8,489.4 138.5,491.1 143.1,431.4 147.8,435.4 152.5,476.1 157.1,484.5 161.8,488.1 166.4,471.3 171.1,462.8 175.8,424.9 180.4,432.8 185.1,481.7 189.8,540.2 194.4,487.3 199.1,471.8 203.7,477.8 208.4,463 213.1,441.7 217.7,455.5 222.4,441.9 227.1,455.4 231.7,452.1 236.4,440 241,449.1 245.7,410.3 250.4,410.6 255,423.3 259.7,410.3 264.3,413.3 269,411.6 273.7,447.4 278.3,412.6 283,456.2 287.7,472.9 292.3,421.5 297,513.8 301.6,456.1 306.3,407.1 311,429 315.6,429.5 320.3,432.6 325,423.9 329.6,428.8 334.3,449.6 338.9,411.9 343.6,455.8 348.3,406.6 352.9,407.5 357.6,406.2 362.2,421.9 366.9,407.1 371.6,430.7 376.2,418.5 380.9,414.2 385.6,417.2 390.2,408.4 394.9,405.7 399.5,407 404.2,413.7 408.9,408.9 413.5,414.1 418.2,407.3 422.9,407 427.5,406.5 432.2,407.2 436.8,406.1 441.5,406.2 446.2,451 450.8,405.9 455.5,601.1 460.1,429.5 464.8,487.3 469.5,475.1 474.1,437.8 478.8,421.5 483.5,407.4 488.1,413.4 492.8,445 497.4,406.6 502.1,413.5 506.8,416.6 511.4,452.1 516.1,513.8 520.8,419.3 525.4,408.6 530.1,486.1 534.7,418.4 539.4,406.8 544.1,497.9 548.7,407.1 553.4,421 558.1,415.5 562.7,530.5 567.4,411.1" stroke="#fde725" stroke-opacity="0.7" stroke-width="1.35"/>
<polyline points="110.5,522 115.2,528.9 119.8,518.3 124.5,532.6 129.1,519.1 133.8,510.4 138.5,510.1 143.1,508.2 147.8,517 152.5,502.4 157.1,500.8 161.8,493.2 166.4,486 171.1,488.1 175.8,474.1 180.4,473.1 185.1,474.4 189.8,493.2 194.4,486 199.1,478.3 203.7,473.3 208.4,473.3 213.1,485.5 217.7,469.9 222.4,467.8 227.1,445 231.7,462.2 236.4,455.1 241,438.1 245.7,441.6 250.4,428.1 255,443.7 259.7,433.9 264.3,431.8 269,430.7 273.7,465.7 278.3,450.8 283,448.7 287.7,473.3 292.3,445.8 297,468.6 301.6,457.7 306.3,423.3 311,452.2 315.6,428.9 320.3,441.6 325,441.1 329.6,457.2 334.3,442.4 338.9,428.1 343.6,445 348.3,438.1 352.9,452.2 357.6,421.2 362.2,450 366.9,411.2 371.6,429.7 376.2,418.3 380.9,427.6 385.6,438.7 390.2,414.1 394.9,421.2 399.5,417 404.2,412.8 408.9,413.8 413.5,412.8 418.2,412 422.9,411.7 427.5,410.6 432.2,410.1 436.8,409.6 441.5,409.6 446.2,459.3 450.8,422.5 455.5,469.9 460.1,432.3 464.8,435.2 469.5,461.4 474.1,442.4 478.8,436.6 483.5,435.2 488.1,437.3 492.8,451.4 497.4,427.6 502.1,440.8 506.8,436.6 511.4,446.6 516.1,442.4 520.8,428.9 525.4,453.5 530.1,473.3 534.7,427.6 539.4,423.3 544.1,428.1 548.7,410.6 553.4,436.6 558.1,430.2 562.7,447.9 567.4,411.2" stroke="#000" stroke-width="1.45"/>
</g>
<rect x="438.3" y="516.6" width="131.3" height="143.7" rx="3" ry="3" fill="#fff" fill-opacity="0.8" stroke="#ccc" stroke-opacity="0.8" stroke-width="1"/>
<g font-family='"DejaVu Sans","Liberation Sans",sans-serif' font-size="13.4" fill="#000">
<line x1="443.5" y1="527.1" x2="471.7" y2="527.1" stroke="#355f8d" stroke-opacity="0.75" stroke-width="1.6"/>
<text x="482.7" y="532.1">Fold 1</text>
<line x1="443.5" y1="547.2" x2="471.7" y2="547.2" stroke="#21908d" stroke-opacity="0.75" stroke-width="1.6"/>
<text x="482.7" y="552.2">Fold 2</text>
<line x1="443.5" y1="567.4" x2="471.7" y2="567.4" stroke="#3cbc75" stroke-opacity="0.75" stroke-width="1.6"/>
<text x="482.7" y="572.4">Fold 3</text>
<line x1="443.5" y1="587.5" x2="471.7" y2="587.5" stroke="#95d840" stroke-opacity="0.75" stroke-width="1.6"/>
<text x="482.7" y="592.5">Fold 4</text>
<line x1="443.5" y1="607.7" x2="471.7" y2="607.7" stroke="#fde725" stroke-opacity="0.75" stroke-width="1.6"/>
<text x="482.7" y="612.7">Fold 5</text>
<line x1="443.5" y1="627.8" x2="471.7" y2="627.8" stroke="#000" stroke-width="1.9"/>
<text x="482.7" y="632.8">Mean</text>
<rect x="443.9" y="643.2" width="27.6" height="9.2" fill="#808080" fill-opacity="0.32"/>
<text x="482.7" y="653" word-spacing="0.8">±1 std. dev.</text>
</g>
<g fill="none" stroke-width="1">
<path d="M110.5 402.7V667.2H576.7" stroke="#2e2e2e"/>
<path d="M110.5 402.7H576.7" stroke="#333"/>
<path d="M576.7 402.7V667.2" stroke="#999"/>
<path d="M110.5 667.2h-3.1M110.5 667.2v3.1M110.5 614.3h-3.1M203.7 667.2v3.1M110.5 561.4h-3.1M297 667.2v3.1M110.5 508.5h-3.1M390.2 667.2v3.1M110.5 455.6h-3.1M483.5 667.2v3.1M110.5 402.7h-3.1M576.7 667.2v3.1" stroke="#222"/>
</g>
<g font-family='"DejaVu Sans","Liberation Sans",sans-serif' font-size="13.8" fill="#000">
<text x="105.2" y="672.8" text-anchor="end">0.0</text>
<text x="105.2" y="619.9" text-anchor="end">0.2</text>
<text x="105.2" y="567" text-anchor="end">0.4</text>
<text x="105.2" y="514.1" text-anchor="end">0.6</text>
<text x="105.2" y="461.2" text-anchor="end">0.8</text>
<text x="105.2" y="408.3" text-anchor="end">1.0</text>
<text x="110.5" y="683.8" text-anchor="middle">0</text>
<text x="203.7" y="683.8" text-anchor="middle">20</text>
<text x="297" y="683.8" text-anchor="middle">40</text>
<text x="390.2" y="683.8" text-anchor="middle">60</text>
<text x="483.5" y="683.8" text-anchor="middle">80</text>
<text x="576.7" y="683.8" text-anchor="middle">100</text>
</g>
<g font-family='"DejaVu Sans","Liberation Sans",sans-serif' font-size="15.7" fill="#000">
<text x="343.6" y="705.4" text-anchor="middle">Epoch</text>
<text transform="translate(73 535) rotate(-90)" text-anchor="middle">Accuracy</text>
</g>
<text x="338.5" y="739" text-anchor="middle" font-family='"Liberation Serif","DejaVu Serif",serif' font-weight="bold" font-size="29" fill="#000">ResSPNet</text>
</g>
<g id="pa4">
<clipPath id="ca4"><rect x="673.1" y="402.7" width="466.2" height="264.5"/></clipPath>
<g clip-path="url(#ca4)" fill="none" stroke-linejoin="round">
<polygon points="673.1,454.4 677.8,452.4 682.4,429.3 687.1,428.6 691.7,435.6 696.4,447.9 701.1,422.8 705.7,411.7 710.4,419 715.1,418.2 719.7,417.5 724.4,445.5 729,420.4 733.7,524.4 738.4,402.7 743,418.6 747.7,419.5 752.4,421 757,414.4 761.7,415.6 766.3,414.1 771,424.7 775.7,435 780.3,424.9 785,431.9 789.6,427.6 794.3,429.5 799,440.7 803.6,424 808.3,424.1 813,402.7 817.6,419.4 822.3,402.7 826.9,417.9 831.6,420.2 836.3,402.7 840.9,408.6 845.6,405.8 850.3,408.3 854.9,412 859.6,405.3 864.2,405.7 868.9,404.5 873.6,405.3 878.2,443.5 882.9,431.3 887.6,422.1 892.2,431.9 896.9,453.7 901.5,402.7 906.2,402.7 910.9,402.7 915.5,402.7 920.2,407.7 924.8,402.7 929.5,402.7 934.2,408.7 938.8,419.2 943.5,410.4 948.2,402.7 952.8,420.2 957.5,408.2 962.1,416.6 966.8,409.6 971.5,410 976.1,412.6 980.8,412.8 985.5,406.7 990.1,406.5 994.8,402.7 999.4,416.6 1004.1,407.3 1008.8,402.7 1013.4,406.6 1018.1,408.2 1022.8,402.7 1027.4,406.4 1032.1,419.8 1036.7,409.2 1041.4,404.1 1046.1,404.6 1050.7,402.7 1055.4,404.5 1060,403.6 1064.7,404.1 1069.4,404.4 1074,404.2 1078.7,404 1083.4,403.7 1088,404 1092.7,405.9 1097.3,407.1 1102,407.6 1106.7,404.6 1111.3,404.6 1116,402.7 1120.7,404.2 1125.3,404.1 1130,403.7 1130,405.9 1125.3,405.5 1120.7,406.5 1116,411.4 1111.3,407.1 1106.7,406.6 1102,457 1097.3,426.9 1092.7,407.9 1088,405.6 1083.4,405.9 1078.7,405.6 1074,405.5 1069.4,407.3 1064.7,405.5 1060,406 1055.4,406.2 1050.7,411.2 1046.1,407.1 1041.4,407.1 1036.7,416.3 1032.1,484 1027.4,496.3 1022.8,458.3 1018.1,449.6 1013.4,427.3 1008.8,462.9 1004.1,429.3 999.4,453.9 994.8,515.4 990.1,411.6 985.5,479.6 980.8,433.8 976.1,451 971.5,418.2 966.8,479.3 962.1,452.2 957.5,491.9 952.8,492.5 948.2,504.9 943.5,447.3 938.8,512.1 934.2,416.8 929.5,551.3 924.8,501.7 920.2,526.2 915.5,532.2 910.9,535.4 906.2,490.2 901.5,525.1 896.9,508.9 892.2,524.8 887.6,524.5 882.9,471.9 878.2,519.1 873.6,407.5 868.9,408.9 864.2,409.2 859.6,408.1 854.9,447.3 850.3,411.4 845.6,450.4 840.9,412.7 836.3,474.7 831.6,474.6 826.9,435.6 822.3,520.3 817.6,472.2 813,522.9 808.3,571.7 803.6,465 799,537.1 794.3,514.5 789.6,502.1 785,520.5 780.3,531.8 775.7,506.4 771,525.1 766.3,415.6 761.7,427.9 757,450.3 752.4,457.9 747.7,496 743,481.5 738.4,527.4 733.7,593.2 729,478.6 724.4,509.6 719.7,546.1 715.1,420 710.4,486.9 705.7,530.7 701.1,474.6 696.4,507.2 691.7,569.2 687.1,451.9 682.4,487.7 677.8,557.2 673.1,537.7" fill="#808080" fill-opacity="0.3" stroke="none"/>
<polyline points="673.1,467.4 677.8,453.6 682.4,463.3 687.1,438.1 691.7,458.8 696.4,472.4 701.1,497.5 705.7,460.2 710.4,440.6 715.1,418.3 719.7,431.5 724.4,437.5 729,506.2 733.7,561.4 738.4,420.6 743,511.5 747.7,428.9 752.4,469.7 757,420.7 761.7,427.6 766.3,416.3 771,536 775.7,455.6 780.3,437.9 785,547.4 789.6,458.7 794.3,428.5 799,559.3 803.6,423.2 808.3,483.5 813,418.7 817.6,435 822.3,461.2 826.9,427 831.6,445 836.3,423.6 840.9,408.5 845.6,414.3 850.3,408.3 854.9,412 859.6,405.6 864.2,406.4 868.9,405.4 873.6,407 878.2,433.7 882.9,443.5 887.6,425.6 892.2,445 896.9,465.9 901.5,427.9 906.2,429.8 910.9,588.4 915.5,419.8 920.2,433.2 924.8,407.3 929.5,472.1 934.2,410.1 938.8,412.6 943.5,412.2 948.2,412.2 952.8,469.3 957.5,417.4 962.1,417.2 966.8,408.8 971.5,421.2 976.1,467.2 980.8,442.1 985.5,505.9 990.1,414.1 994.8,414.6 999.4,416 1004.1,439.7 1008.8,493.2 1013.4,409.8 1018.1,468.7 1022.8,490 1027.4,421.6 1032.1,455.3 1036.7,419.8 1041.4,405.1 1046.1,405 1050.7,406.5 1055.4,405.1 1060,404.5 1064.7,404.2 1069.4,405.6 1074,404.3 1078.7,406.3 1083.4,404.1 1088,404.3 1092.7,406.4 1097.3,423.5 1102,434.6 1106.7,405.8 1111.3,405.6 1116,405.7 1120.7,405 1125.3,404.4 1130,403.9" stroke="#355f8d" stroke-opacity="0.7" stroke-width="1.35"/>
<polyline points="673.1,472.5 677.8,593.1 682.4,507.6 687.1,437.2 691.7,427.6 696.4,469 701.1,445.9 705.7,587.8 710.4,424 715.1,420.8 719.7,529.7 724.4,481.5 729,435.5 733.7,592.3 738.4,590.5 743,425 747.7,493.6 752.4,433.2 757,426.7 761.7,419.9 766.3,414.5 771,415.4 775.7,442.4 780.3,416.3 785,454.3 789.6,456.6 794.3,490.7 799,535 803.6,429.6 808.3,435.7 813,415.8 817.6,439.5 822.3,410.1 826.9,424.5 831.6,427.4 836.3,411.3 840.9,410.3 845.6,415.9 850.3,409.4 854.9,416.7 859.6,409.4 864.2,406.1 868.9,405.2 873.6,405.8 878.2,535 882.9,445.8 887.6,445.4 892.2,432.3 896.9,460.7 901.5,413 906.2,415.8 910.9,411.1 915.5,411.1 920.2,415.3 924.8,562.2 929.5,425.1 934.2,411 938.8,533.9 943.5,434 948.2,565.1 952.8,433.3 957.5,480.2 962.1,428.6 966.8,467.9 971.5,412.2 976.1,426 980.8,426.9 985.5,415.1 990.1,408.5 994.8,406.9 999.4,426.2 1004.1,410.8 1008.8,423.9 1013.4,408.3 1018.1,426.5 1022.8,408.4 1027.4,503.5 1032.1,430.9 1036.7,411.1 1041.4,405 1046.1,404.9 1050.7,416.2 1055.4,406.2 1060,404 1064.7,404.4 1069.4,404.4 1074,404.2 1078.7,405.1 1083.4,404.3 1088,406.4 1092.7,405.7 1097.3,433.1 1102,431.8 1106.7,405.3 1111.3,408.3 1116,416.2 1120.7,404.2 1125.3,404.2 1130,406.8" stroke="#21908d" stroke-opacity="0.7" stroke-width="1.35"/>
<polyline points="673.1,556.1 677.8,535 682.4,464.4 687.1,462.3 691.7,459.8 696.4,535 701.1,446.5 705.7,436.1 710.4,518.8 715.1,418.7 719.7,435.6 724.4,535 729,430.8 733.7,496.1 738.4,422.9 743,440.6 747.7,513.8 752.4,450.5 757,416.4 761.7,417 766.3,414.3 771,423 775.7,535 780.3,528.4 785,445.8 789.6,423.7 794.3,544.5 799,446.2 803.6,453.4 808.3,421.8 813,454.5 817.6,496.7 822.3,431.3 826.9,414.1 831.6,439.7 836.3,512.5 840.9,410.7 845.6,420.6 850.3,409.5 854.9,425.2 859.6,406.3 864.2,410.9 868.9,405.3 873.6,405.8 878.2,461.3 882.9,475.2 887.6,427.6 892.2,444.6 896.9,464.9 901.5,586.3 906.2,535 910.9,416.7 915.5,483.2 920.2,575.7 924.8,415.5 929.5,414.9 934.2,410.7 938.8,455.2 943.5,416.3 948.2,420 952.8,519.1 957.5,424.1 962.1,468.3 966.8,417.3 971.5,410.2 976.1,430.3 980.8,412.4 985.5,420.3 990.1,407.6 994.8,408 999.4,423.1 1004.1,413.7 1008.8,409.4 1013.4,433.3 1018.1,423.6 1022.8,406 1027.4,405.5 1032.1,449.5 1036.7,411.2 1041.4,404.2 1046.1,405.6 1050.7,404.8 1055.4,406.4 1060,404.2 1064.7,406.2 1069.4,405.2 1074,406 1078.7,404.1 1083.4,407 1088,404.6 1092.7,407.1 1097.3,406 1102,410 1106.7,404.8 1111.3,405.4 1116,405.3 1120.7,404.7 1125.3,404.7 1130,403.9" stroke="#3cbc75" stroke-opacity="0.7" stroke-width="1.35"/>
<polyline points="673.1,535 677.8,478.8 682.4,428 687.1,427.5 691.7,579.9 696.4,451.2 701.1,427 705.7,424.7 710.4,448.3 715.1,419.2 719.7,585.2 724.4,465.4 729,446.9 733.7,556.1 738.4,424.6 743,442.8 747.7,420.3 752.4,419.5 757,431.1 761.7,430.1 766.3,414.5 771,473.9 775.7,438 780.3,454.8 785,506.6 789.6,450.4 794.3,434 799,449 803.6,480.3 808.3,521.1 813,583.4 817.6,438.1 822.3,577 826.9,441.8 831.6,499.7 836.3,423.5 840.9,414.4 845.6,472.5 850.3,412.8 854.9,462.1 859.6,406.3 864.2,406.4 868.9,406.5 873.6,408.2 878.2,460.6 882.9,420.8 887.6,551.6 892.2,535 896.9,479.8 901.5,456 906.2,425.1 910.9,408.5 915.5,417.9 920.2,484.1 924.8,412.4 929.5,426.9 934.2,420.8 938.8,503.3 943.5,419.1 948.2,415.9 952.8,413.9 957.5,410.8 962.1,434.1 966.8,501.2 971.5,416.1 976.1,408.8 980.8,417.2 985.5,411.5 990.1,407.5 994.8,411.5 999.4,442.6 1004.1,417.6 1008.8,419.3 1013.4,408.4 1018.1,415.5 1022.8,418.3 1027.4,508.5 1032.1,509.3 1036.7,412.1 1041.4,405.2 1046.1,405.6 1050.7,405.2 1055.4,404.6 1060,407.1 1064.7,404.7 1069.4,408.6 1074,405 1078.7,404.2 1083.4,404 1088,404.5 1092.7,408.7 1097.3,411.7 1102,408.5 1106.7,404.7 1111.3,404.6 1116,404.7 1120.7,405.3 1125.3,406.1 1130,404.3" stroke="#95d840" stroke-opacity="0.7" stroke-width="1.35"/>
<polyline points="673.1,449.3 677.8,463.5 682.4,429.2 687.1,436.2 691.7,586 696.4,460.3 701.1,426.7 705.7,447.1 710.4,433 715.1,418.6 719.7,426.9 724.4,468.4 729,428.1 733.7,587.8 738.4,452.5 743,430.2 747.7,432 752.4,424.4 757,466.8 761.7,414.1 766.3,414.8 771,526.2 775.7,482.5 780.3,554.3 785,427 789.6,535 794.3,462.3 799,455.3 803.6,436 808.3,627.5 813,424.2 817.6,419.7 822.3,409 826.9,426.4 831.6,425.2 836.3,409.2 840.9,409.3 845.6,417.2 850.3,409.2 854.9,432.4 859.6,405.8 864.2,407.5 868.9,411 873.6,405.3 878.2,515.6 882.9,472.9 887.6,516.3 892.2,535 896.9,535 901.5,420 906.2,419.5 910.9,499.7 915.5,589.7 920.2,426.5 924.8,407.9 929.5,624.9 934.2,411.1 938.8,423.2 943.5,462.8 948.2,409.3 952.8,446.4 957.5,517.8 962.1,424 966.8,427.3 971.5,410.7 976.1,426.7 980.8,418.1 985.5,463.1 990.1,407.6 994.8,585.5 999.4,468.3 1004.1,409.8 1008.8,413.2 1013.4,425.1 1018.1,410.2 1022.8,407.2 1027.4,417.7 1032.1,414.5 1036.7,409.6 1041.4,408.6 1046.1,408.3 1050.7,406 1055.4,404.3 1060,404.3 1064.7,404.5 1069.4,405.6 1074,404.5 1078.7,404.4 1083.4,404.7 1088,404.2 1092.7,406.7 1097.3,410.6 1102,476.8 1106.7,407.4 1111.3,405.5 1116,404.8 1120.7,407.6 1125.3,404.7 1130,405.1" stroke="#fde725" stroke-opacity="0.7" stroke-width="1.35"/>
<polyline points="673.1,496.1 677.8,504.8 682.4,458.5 687.1,440.3 691.7,502.4 696.4,477.6 701.1,448.7 705.7,471.2 710.4,453 715.1,419.1 719.7,481.8 724.4,477.6 729,449.5 733.7,558.8 738.4,462.2 743,450 747.7,457.7 752.4,439.5 757,432.3 761.7,421.7 766.3,414.9 771,474.9 775.7,470.7 780.3,478.3 785,476.2 789.6,464.9 794.3,472 799,488.9 803.6,444.5 808.3,497.9 813,459.3 817.6,445.8 822.3,457.7 826.9,426.8 831.6,447.4 836.3,436 840.9,410.6 845.6,428.1 850.3,409.8 854.9,429.7 859.6,406.7 864.2,407.5 868.9,406.7 873.6,406.4 878.2,481.3 882.9,451.6 887.6,473.3 892.2,478.3 896.9,481.3 901.5,460.6 906.2,445 910.9,464.9 915.5,464.3 920.2,467 924.8,441.1 929.5,472.8 934.2,412.8 938.8,465.7 943.5,428.9 948.2,444.5 952.8,456.4 957.5,450 962.1,434.4 966.8,444.5 971.5,414.1 976.1,431.8 980.8,423.3 985.5,443.2 990.1,409 994.8,445.3 999.4,435.2 1004.1,418.3 1008.8,431.8 1013.4,417 1018.1,428.9 1022.8,426 1027.4,451.4 1032.1,451.9 1036.7,412.8 1041.4,405.6 1046.1,405.9 1050.7,406.9 1055.4,405.3 1060,404.8 1064.7,404.8 1069.4,405.9 1074,404.8 1078.7,404.8 1083.4,404.8 1088,404.8 1092.7,406.9 1097.3,417 1102,432.3 1106.7,405.6 1111.3,405.9 1116,406.9 1120.7,405.3 1125.3,404.8 1130,404.8" stroke="#000" stroke-width="1.45"/>
</g>
<rect x="1000.9" y="516.6" width="131.3" height="143.7" rx="3" ry="3" fill="#fff" fill-opacity="0.8" stroke="#ccc" stroke-opacity="0.8" stroke-width="1"/>
<g font-family='"DejaVu Sans","Liberation Sans",sans-serif' font-size="13.4" fill="#000">
<line x1="1006.1" y1="527.1" x2="1034.3" y2="527.1" stroke="#355f8d" stroke-opacity="0.75" stroke-width="1.6"/>
<text x="1045.3" y="532.1">Fold 1</text>
<line x1="1006.1" y1="547.2" x2="1034.3" y2="547.2" stroke="#21908d" stroke-opacity="0.75" stroke-width="1.6"/>
<text x="1045.3" y="552.2">Fold 2</text>
<line x1="1006.1" y1="567.4" x2="1034.3" y2="567.4" stroke="#3cbc75" stroke-opacity="0.75" stroke-width="1.6"/>
<text x="1045.3" y="572.4">Fold 3</text>
<line x1="1006.1" y1="587.5" x2="1034.3" y2="587.5" stroke="#95d840" stroke-opacity="0.75" stroke-width="1.6"/>
<text x="1045.3" y="592.5">Fold 4</text>
<line x1="1006.1" y1="607.7" x2="1034.3" y2="607.7" stroke="#fde725" stroke-opacity="0.75" stroke-width="1.6"/>
<text x="1045.3" y="612.7">Fold 5</text>
<line x1="1006.1" y1="627.8" x2="1034.3" y2="627.8" stroke="#000" stroke-width="1.9"/>
<text x="1045.3" y="632.8">Mean</text>
<rect x="1006.5" y="643.2" width="27.6" height="9.2" fill="#808080" fill-opacity="0.32"/>
<text x="1045.3" y="653" word-spacing="0.8">±1 std. dev.</text>
</g>
<g fill="none" stroke-width="1">
<path d="M673.1 402.7V667.2H1139.3" stroke="#2e2e2e"/>
<path d="M673.1 402.7H1139.3" stroke="#333"/>
<path d="M1139.3 402.7V667.2" stroke="#999"/>
<path d="M673.1 667.2h-3.1M673.1 667.2v3.1M673.1 614.3h-3.1M766.3 667.2v3.1M673.1 561.4h-3.1M859.6 667.2v3.1M673.1 508.5h-3.1M952.8 667.2v3.1M673.1 455.6h-3.1M1046.1 667.2v3.1M673.1 402.7h-3.1M1139.3 667.2v3.1" stroke="#222"/>
</g>
<g font-family='"DejaVu Sans","Liberation Sans",sans-serif' font-size="13.8" fill="#000">
<text x="667.8" y="672.8" text-anchor="end">0.0</text>
<text x="667.8" y="619.9" text-anchor="end">0.2</text>
<text x="667.8" y="567" text-anchor="end">0.4</text>
<text x="667.8" y="514.1" text-anchor="end">0.6</text>
<text x="667.8" y="461.2" text-anchor="end">0.8</text>
<text x="667.8" y="408.3" text-anchor="end">1.0</text>
<text x="673.1" y="683.8" text-anchor="middle">0</text>
<text x="766.3" y="683.8" text-anchor="middle">20</text>
<text x="859.6" y="683.8" text-anchor="middle">40</text>
<text x="952.8" y="683.8" text-anchor="middle">60</text>
<text x="1046.1" y="683.8" text-anchor="middle">80</text>
<text x="1139.3" y="683.8" text-anchor="middle">100</text>
</g>
<g font-family='"DejaVu Sans","Liberation Sans",sans-serif' font-size="15.7" fill="#000">
<text x="906.2" y="705.4" text-anchor="middle">Epoch</text>
<text transform="translate(635.6 535) rotate(-90)" text-anchor="middle">Accuracy</text>
</g>
<text x="901" y="739.4" text-anchor="middle" font-family='"Liberation Serif","DejaVu Serif",serif' font-weight="bold" font-size="29" fill="#000">HTRecNet</text>
</g>
<g id="pb">
<clipPath id="cb"><rect x="1268.8" y="2.8" width="407.5" height="330.3"/></clipPath>
<g clip-path="url(#cb)" fill="none" stroke-linejoin="miter" stroke-miterlimit="3">
<polyline points="1306.2,291.9 1309.6,-203.5 1313,42.4 1316.4,174.6 1319.8,303.7 1323.2,272.3 1326.6,-1339.8 1330,299.6 1333.4,214.5 1336.8,297.7 1340.2,308.9 1343.6,-1753 1346.9,-926.6 1350.3,293.6 1353.7,208.3 1357.1,278.3 1360.5,288 1363.9,285.1 1367.3,268.2 1370.7,305.4 1374.1,309.7 1377.5,309.9 1380.9,226.2 1384.3,174.4 1387.7,228.3 1391.1,280.8 1394.5,272.3 1397.9,279.1 1401.3,270.6 1404.7,262.2 1408.1,204.9 1411.5,271.7 1414.9,302.1 1418.3,266.5 1421.7,299.6 1425.1,293.6 1428.5,272.3 1431.8,310.5 1435.2,302.1 1438.6,310.5 1442,303.3 1445.4,311.8 1448.8,312 1452.2,312 1455.6,312 1459,261.4 1462.4,229.5 1465.8,246.9 1469.2,285.1 1472.6,211.8 1476,136.4 1479.4,296.9 1482.8,230.4 1486.2,249 1489.6,270.6 1493,282.6 1496.4,171.1 1499.8,310.5 1503.2,272.3 1506.6,304.5 1510,146.5 1513.4,290.3 1516.7,292.8 1520.1,291.1 1523.5,268.6 1526.9,310.5 1530.3,295.2 1533.7,298.5 1537.1,244.6 1540.5,310.9 1543.9,272.1 1547.3,285.1 1550.7,303.7 1554.1,302.9 1557.5,308.9 1560.9,303.3 1564.3,306.2 1567.7,291.9 1571.1,311.3 1574.5,305.4 1577.9,310.9 1581.3,308.9 1584.7,311.8 1588.1,306 1591.5,311.8 1594.9,308.9 1598.3,310.5 1601.6,312.2 1605,312.4 1608.4,310.5 1611.8,311.3 1615.2,309.9 1618.6,312.4 1622,312 1625.4,311.3 1628.8,312.4 1632.2,312.4 1635.6,312.2 1639,312 1642.4,309.9 1645.8,312.4" stroke="#4f918e" stroke-width="1.95"/>
<polyline points="1306.2,285.1 1309.6,299.6 1313,301.2 1316.4,302.9 1319.8,306 1323.2,306 1326.6,305.4 1330,306.6 1333.4,307.4 1336.8,308 1340.2,308.9 1343.6,307.6 1346.9,306.8 1350.3,306 1353.7,307.4 1357.1,308 1360.5,308.9 1363.9,309.3 1367.3,309.7 1370.7,309.9 1374.1,310.1 1377.5,310.3 1380.9,309.7 1384.3,308.9 1387.7,309.1 1391.1,309.3 1394.5,309.4 1397.9,309.5 1401.3,309.6 1404.7,309.7 1408.1,309.7 1411.5,309.7 1414.9,310.1 1418.3,310.3 1421.7,310.5 1425.1,310.7 1428.5,310.8 1431.8,310.8 1435.2,310.9 1438.6,310.9 1442,311 1445.4,311.1 1448.8,311.2 1452.2,311.3 1455.6,311.3 1459,310.9 1462.4,310.5 1465.8,310.6 1469.2,310.7 1472.6,310.7 1476,310.8 1479.4,310.9 1482.8,311 1486.2,311.1 1489.6,311.1 1493,311 1496.4,310.9 1499.8,311.1 1503.2,311.2 1506.6,311.3 1510,311.2 1513.4,311.1 1516.7,311.3 1520.1,311.4 1523.5,311.6 1526.9,311.6 1530.3,311.6 1533.7,311.7 1537.1,311.7 1540.5,311.8 1543.9,311.8 1547.3,311.8 1550.7,311.9 1554.1,311.9 1557.5,312 1560.9,312 1564.3,312 1567.7,312.1 1571.1,312.1 1574.5,312.2 1577.9,312.2 1581.3,312.2 1584.7,312.2 1588.1,312.3 1591.5,312.3 1594.9,312.3 1598.3,312.3 1601.6,312.3 1605,312.4 1608.4,312.4 1611.8,312.4 1615.2,312.4 1618.6,312.4 1622,312.5 1625.4,312.5 1628.8,312.5 1632.2,312.5 1635.6,312.5 1639,312.5 1642.4,312.6 1645.8,312.6" stroke="#4a6790" stroke-width="1.95"/>
</g>
<path d="M1268.8 2.8V333.1H1677.1M1268.8 313h-6.6M1268.8 292.3h-3.4M1268.8 271.7h-6.6M1268.8 251h-3.4M1268.8 230.4h-6.6M1268.8 209.7h-3.4M1268.8 189h-6.6M1268.8 168.4h-3.4M1268.8 147.7h-6.6M1268.8 127.1h-3.4M1268.8 106.4h-6.6M1268.8 85.7h-3.4M1268.8 65.1h-6.6M1268.8 44.4h-3.4M1268.8 23.8h-6.6M1268.8 3.1h-3.4M1268.8 333.1v3.4M1302.8 333.1v6.6M1336.8 333.1v3.4M1370.7 333.1v6.6M1404.7 333.1v3.4M1438.6 333.1v6.6M1472.6 333.1v3.4M1506.6 333.1v6.6M1540.5 333.1v3.4M1574.5 333.1v6.6M1608.4 333.1v3.4M1642.4 333.1v6.6M1676.4 333.1v3.4" fill="none" stroke="#1a1a1a" stroke-width="1.7"/>
<g font-family='"Liberation Serif","DejaVu Serif",serif' font-size="17.2" fill="#000">
<text x="1257.6" y="318.7" text-anchor="end">0</text>
<text x="1257.6" y="277.4" text-anchor="end">2</text>
<text x="1257.6" y="236.1" text-anchor="end">4</text>
<text x="1257.6" y="194.7" text-anchor="end">6</text>
<text x="1257.6" y="153.4" text-anchor="end">8</text>
<text x="1257.6" y="112.1" text-anchor="end">10</text>
<text x="1257.6" y="70.8" text-anchor="end">12</text>
<text x="1257.6" y="29.5" text-anchor="end">14</text>
<text x="1302.8" y="357.7" text-anchor="middle">0</text>
<text x="1370.7" y="357.7" text-anchor="middle">20</text>
<text x="1438.6" y="357.7" text-anchor="middle">40</text>
<text x="1506.6" y="357.7" text-anchor="middle">60</text>
<text x="1574.5" y="357.7" text-anchor="middle">80</text>
<text x="1642.4" y="357.7" text-anchor="middle">100</text>
</g>
<g font-family='"Liberation Serif","DejaVu Serif",serif' font-weight="bold" fill="#000">
<text x="1472.5" y="379.3" text-anchor="middle" font-size="23.3">epoch</text>
<text transform="translate(1231.8 168) rotate(-90)" text-anchor="middle" font-size="23.3">Loss</text>
<rect x="1535.5" y="16.2" width="149.8" height="53.3" fill="#fff" stroke="#8a8a8a" stroke-width="1"/>
<line x1="1537.5" y1="30.6" x2="1584.5" y2="30.6" stroke="#4a6790" stroke-width="2"/>
<line x1="1537.5" y1="55.9" x2="1584.5" y2="55.9" stroke="#4f918e" stroke-width="2"/>
<text x="1589.3" y="37.3" font-size="20.4">Train Loss</text>
<text x="1589.3" y="63" font-size="20.4">Val Loss</text>
</g>
</g>
<g id="pc">
<path d="M1341.6 547L1655.5 547M1341.6 518.7L1655.5 518.7M1341.6 490.3L1655.5 490.3M1341.6 462L1655.5 462M1341.6 433.7L1655.5 433.7M1250.2 654.1L1341.6 547M1250.2 622.2L1341.6 518.7M1250.2 590.4L1341.6 490.3M1250.2 558.5L1341.6 462M1250.2 526.7L1341.6 433.7M1258.5 675.8L1258.5 502.4M1275.1 655.8L1275.1 485.9M1290.4 637.2L1290.4 470.6M1305.9 618.5L1305.9 455.2M1320.1 601.3L1320.1 441M1334.4 584L1334.4 426.7" fill="none" stroke="#cdcdcd" stroke-width="0.75"/>
<path d="M1258.5 675.8L1605.2 675.8M1275.1 655.8L1615.3 655.8M1290.4 637.2L1624.5 637.2M1305.9 618.5L1633.9 618.5M1320.1 601.3L1642.5 601.3M1334.4 584L1651.2 584" fill="none" stroke="#cfcfcf" stroke-width="1"/>
<path d="M1250.2 510.8L1341.6 419.5L1341.6 575.3M1250.2 685.9L1341.6 575.3" fill="none" stroke="#2a2a2a" stroke-width="0.8"/>
<path d="M1341.6 419.5L1655.5 419.5" fill="none" stroke="#a8a8a8" stroke-width="0.9"/>
<path d="M1655.5 419.5L1655.5 575.3" fill="none" stroke="#333" stroke-width="1.1"/>
<g fill="none" stroke-linejoin="round" stroke-width="1.8">
<polyline points="1335.1,484.4 1336.5,475.9 1338.2,469.2 1340.7,464.1 1343.3,460.7 1346.7,456.5 1351.7,455.3 1356.8,452.6 1361.9,451.4 1367,450.2 1372.9,453.6 1378.8,451.4 1385.6,449.7 1392.4,448 1400,446.8 1407.6,450.6 1416.1,449.4 1426.2,447.7 1434.7,446.7 1443.1,445.1 1453.3,444.1 1463.5,443.3 1474.5,442.4 1481.2,445.8 1488.9,446.3 1497.3,445.5 1505.8,444.6 1522.7,443.4 1539.6,442.6 1556.6,442.1 1573.5,441.7 1590.4,441.4 1607.4,441.2 1624.3,441.2 1641.2,441.2 1651,441.2" stroke="#3d0652" stroke-width="2.1"/>
<polyline points="1320.4,519.1 1323.8,507.3 1326.7,511.5 1329.7,489.5 1333.1,475.9 1336.8,512.3 1339.9,498 1342.4,480.2 1346.7,492.9 1350,473.4 1353.1,464.4 1356.8,498 1360.2,492.9 1362.7,481 1366.1,540.3 1369.5,488.6 1373.7,481 1376.3,485.3 1379.7,475.1 1383.9,467.5 1389,461.6 1392.4,493.7 1394.9,492.9 1398.3,497.1 1401.7,496.3 1405.9,489.5 1409.3,495.4 1411.8,502.2 1415.2,478.5 1418.6,500.5 1422,486.1 1425.4,480.2 1427.9,482.7 1431.3,469.2 1434.7,478.5 1438.1,470 1441.5,459.9 1444.5,467.5 1447.4,459.4 1450.8,468.8 1454.2,458.2 1464.3,458.2 1466.8,498 1470.2,482.7 1471.9,489.5 1475.3,496.3 1479,498 1482.1,486.1 1486.3,478.5 1489.7,488.6 1493.9,489.5 1495.6,485.3 1499,476.8 1502.4,492.9 1506.3,460.7 1509.2,487.8 1512.6,470 1517.6,481.9 1521,484.4 1525.3,473.4 1528.6,477.6 1532,460.7 1535.4,470 1539.6,467.5 1542.2,475.9 1545.1,459.4 1549,476.8 1554.9,463.2 1558.3,470 1561.3,463.2 1565,469.2 1568.4,468.3 1571,481.9 1574.3,481.9 1577.7,459.9 1580.3,457 1587,457.7 1593.8,455.6 1602.3,455.6 1610.7,455.3 1615.8,457.3 1620.9,455.6 1629.4,456.5 1634.4,455.6 1642.1,455.6" stroke="#35307f"/>
<polyline points="1305.2,547.9 1308.6,551.3 1311.1,557.2 1314.5,554.7 1318.7,533.5 1323,547.9 1325.5,553 1328.9,533.5 1332.3,541.1 1338.2,528.4 1341.6,548.7 1348.3,540.3 1351.7,556.4 1354.3,538.6 1358.5,529.3 1361,510.6 1362.7,520 1366.1,512.3 1369.5,510.6 1375.4,492.9 1378.8,533.5 1383.9,530.1 1389,527.6 1392.4,514.9 1395.7,523.3 1399.1,514.9 1403.4,523.3 1407.6,509.8 1411,503 1414.4,501.3 1417.8,506.4 1422,495.4 1425.4,504.7 1427.9,479.3 1431.3,491.2 1434.7,482.7 1438.1,489.5 1441.5,478.5 1450.8,475.6 1455,531.8 1458.4,521.7 1461.8,523.3 1465.2,509 1468.5,521.7 1471.9,509.8 1475.3,499.6 1479,509 1482.4,511.5 1486.3,493.7 1490.6,513.2 1494.8,489.5 1498.2,513.2 1501.6,501.3 1506.6,503 1510,489.5 1514.3,494.6 1517.6,498.8 1521,484.4 1526.1,489.5 1531.2,491.2 1534.6,475.1 1541.3,492 1545.6,478.5 1549,489.5 1551.5,479.3 1554.9,487.8 1560,493.7 1564.2,496.3 1567.6,478.5 1570.1,473.4 1575.2,474.3 1580.3,471.7 1585.4,471.7 1590.4,474.3 1595.5,472.6 1602.3,472.2 1607.4,475.1 1614.1,471.7 1620.9,474.6 1626,472.6 1634.1,472.6" stroke="#2c5c88"/>
<polyline points="1289.9,570.7 1292.5,564.8 1295.9,574.1 1298.4,564 1301.8,578.4 1304.3,547 1307.7,570.7 1310.3,574.1 1313.6,553.8 1316.2,558.9 1318.7,552.1 1323,539.4 1326.3,553 1331.4,576.7 1334,558.9 1337.3,576.7 1340.7,551.3 1345,556.4 1348.3,538.6 1350.9,534.3 1355.1,527.6 1361,525 1363.6,540.3 1366.1,556.4 1369.5,563.1 1373.7,557.2 1377.1,551.3 1380.5,541.1 1384.7,558.9 1387.3,545.4 1390.7,542 1394.1,554.7 1398.3,536.9 1400.8,525 1405.1,516.6 1409.3,506.4 1414.4,502.2 1417.8,507.3 1422,496.3 1425.4,505.6 1429.6,493.7 1434.7,492 1439.8,494.6 1441.5,520 1444,542 1447.4,541.1 1450.8,538.6 1454.2,562.3 1457.5,565.7 1460.9,562.3 1463.5,550.4 1467.7,565.7 1471.9,520 1474.5,499.6 1478.7,523.3 1482.9,496.3 1485.5,516.6 1488,493.7 1491.4,509.8 1494.8,486.1 1499,513.2 1501.6,501.3 1506.6,503.9 1510,498 1513.4,503 1519.3,518.3 1523.6,499.6 1530.3,514 1535.4,508.1 1538,509.8 1547.3,497.6 1550.6,520 1554.9,504.7 1560,489.5 1566.7,488.6 1573.5,488.1 1582,488.6 1590.4,487.8 1593.8,488.1 1600.6,489.8 1607.4,488.3 1615.8,488.6 1624.8,487.5" stroke="#368a82"/>
<polyline points="1274.7,604.6 1278.1,592.8 1281.5,632.5 1284.9,587.7 1288.2,544.5 1290.8,579.2 1294.2,604.6 1295.9,614.8 1298.4,554.7 1301.8,578.4 1305.2,550.4 1308.6,523.3 1311.1,570.7 1315.3,620.7 1318.7,580.9 1323,627.5 1325.5,574.1 1328.9,569.1 1332.3,556.4 1334.8,575.8 1338.2,548.7 1342.4,523.3 1345.8,518.3 1350,584.3 1356,601.2 1359.3,578.4 1363.6,586.8 1367,588.5 1370.4,601.2 1374.6,566.5 1378,593.6 1380.5,567.4 1383.9,541.1 1386.4,553.8 1389,540.3 1391.5,550.4 1394.9,530.1 1398.3,550.4 1402.5,520 1406.8,511.5 1416.1,507.3 1426.2,507.3 1427.9,553.8 1430.5,580.1 1433,572.4 1436.4,598.7 1439.8,577.5 1443.1,597.8 1446.5,575.8 1450.8,547.9 1454.2,567.4 1457.5,552.1 1461.8,558.9 1464.3,531 1467.7,554.7 1471.1,530.1 1475.3,530.1 1478.7,552.1 1482.9,520 1486.3,550.4 1490.6,531.8 1494.8,538.6 1498.2,555.5 1503.2,530.1 1508.3,523.3 1510,545.4 1512.6,509.8 1516.8,542 1521,525 1522.7,521.7 1526.1,530.1 1530.3,520 1535.4,523.3 1539.6,548.7 1543,542 1545.6,516.6 1547.3,509.8 1549.8,505.6 1554.9,507.3 1560,503.9 1566.7,503 1571.8,505.6 1576.9,503 1583.7,503.9 1588.7,507.3 1593.8,504.7 1600.6,503.4 1607.4,505.6 1615.5,503.9" stroke="#5bb365"/>
<polyline points="1258.6,617.3 1262,608.8 1265.4,627.5 1268.8,601.2 1272.2,585.1 1275.6,608 1279.3,619 1283.2,591.1 1285.7,603.8 1289.1,591.1 1293.3,576.7 1295.9,604.6 1300.1,619.8 1304.3,594.4 1307.7,635.9 1311.9,594.4 1315.3,592.8 1318.7,583.4 1322.1,566.5 1328,558.9 1331.4,545.4 1334,567.4 1335.6,597.8 1339,603.8 1343.3,601.2 1346.7,599.5 1350.9,585.1 1353.4,586.8 1356.8,595.3 1360.2,578.4 1362.7,599.5 1365.3,569.9 1368.7,562.3 1372,564 1374.6,569.9 1378,551.3 1381.4,566.5 1384.7,567.4 1389,534.3 1391.5,542.8 1395.7,531 1399.1,550.4 1402.5,526.7 1407.6,526.4 1412.7,526.7 1414.4,553.8 1416.1,599.5 1419.4,580.1 1422,591.9 1426.2,590.2 1430.5,602.1 1434.7,564 1437.2,556.4 1440.6,570.7 1444.8,571.6 1448.2,562.3 1451.6,553.8 1455,580.1 1458.4,532.7 1461.8,576.7 1465.2,552.1 1469.4,558.1 1474.5,573.3 1478.7,558.9 1482.9,556.4 1486.3,531.8 1489.7,546.2 1493.1,542 1497.3,556.4 1500.7,534.3 1506.6,553.8 1510.9,538.6 1514.3,543.7 1518.5,535.2 1522.7,541.1 1525.3,539.4 1528.6,558.1 1532,552.1 1535.4,533.5 1538.8,522.5 1544.7,523.3 1549.8,521.7 1554.9,520.8 1560,522 1566.7,520.8 1571.8,521.3 1578.6,523.7 1585.4,520.8 1592.1,522.5 1598.9,521.3 1605.7,520.8" stroke="#a0d438" stroke-width="2.1"/>
</g>
<path d="M1250.2 510.8V685.9H1600.2L1655.5 575.3M1250.2 685.9h-6.6M1250.2 670h-3.4M1250.2 654.1h-6.6M1250.2 638.1h-3.4M1250.2 622.2h-6.6M1250.2 606.3h-3.4M1250.2 590.4h-6.6M1250.2 574.5h-3.4M1250.2 558.5h-6.6M1250.2 542.6h-3.4M1250.2 526.7h-6.6M1250.2 510.8h-3.4M1282 685.9v3.4M1317.4 685.9v6.6M1352.7 685.9v3.4M1388.1 685.9v6.6M1423.4 685.9v3.4M1458.8 685.9v6.6M1494.1 685.9v3.4M1529.5 685.9v6.6M1564.8 685.9v3.4M1600.2 685.9v6.6M1605.2 675.8h6.4M1615.3 655.8h6.4M1624.5 637.2h6.4M1633.9 618.5h6.4M1642.5 601.3h6.4M1651.2 584h6.4" fill="none" stroke="#111" stroke-width="1.8"/>
<g font-family='"Liberation Serif","DejaVu Serif",serif' font-weight="bold" fill="#000" font-size="16">
<text x="1238.8" y="692.6" text-anchor="end" font-size="17.4">0.0</text>
<text x="1238.8" y="660.8" text-anchor="end" font-size="17.4">0.2</text>
<text x="1238.8" y="628.9" text-anchor="end" font-size="17.4">0.4</text>
<text x="1238.8" y="597.1" text-anchor="end" font-size="17.4">0.6</text>
<text x="1238.8" y="565.2" text-anchor="end" font-size="17.4">0.8</text>
<text x="1238.8" y="533.4" text-anchor="end" font-size="17.4">1.0</text>
<text x="1317.4" y="714.1" text-anchor="middle" font-size="17.4">20</text>
<text x="1388.1" y="714.1" text-anchor="middle" font-size="17.4">40</text>
<text x="1458.8" y="714.1" text-anchor="middle" font-size="17.4">60</text>
<text x="1529.5" y="714.1" text-anchor="middle" font-size="17.4">80</text>
<text x="1600.2" y="714.1" text-anchor="middle" font-size="17.4">100</text>
<text x="1663.2" y="589.6" font-size="16">Train Accuracy</text>
<text x="1654.5" y="607" font-size="16.3">Val Accuracy</text>
<text x="1645.9" y="624.3" font-size="16.5">Val Precision</text>
<text x="1636.5" y="643.1" font-size="16.8">Val Recall</text>
<text x="1627.3" y="661.7" font-size="17.1">Val MCC</text>
<text x="1617.2" y="681.9" font-size="17.4">Val F1</text>
<text x="1421.5" y="734" text-anchor="middle" font-size="23.5">epoch</text>
</g>
</g>
<g font-family='"Liberation Serif","DejaVu Serif",serif' font-weight="bold" font-size="40.1" fill="#000">
<text x="1.4" y="50.9">(A)</text>
<text x="1173.9" y="50.9">(B)</text>
<text x="1173.6" y="444.4">(C)</text>
</g>
</svg></body></html>
